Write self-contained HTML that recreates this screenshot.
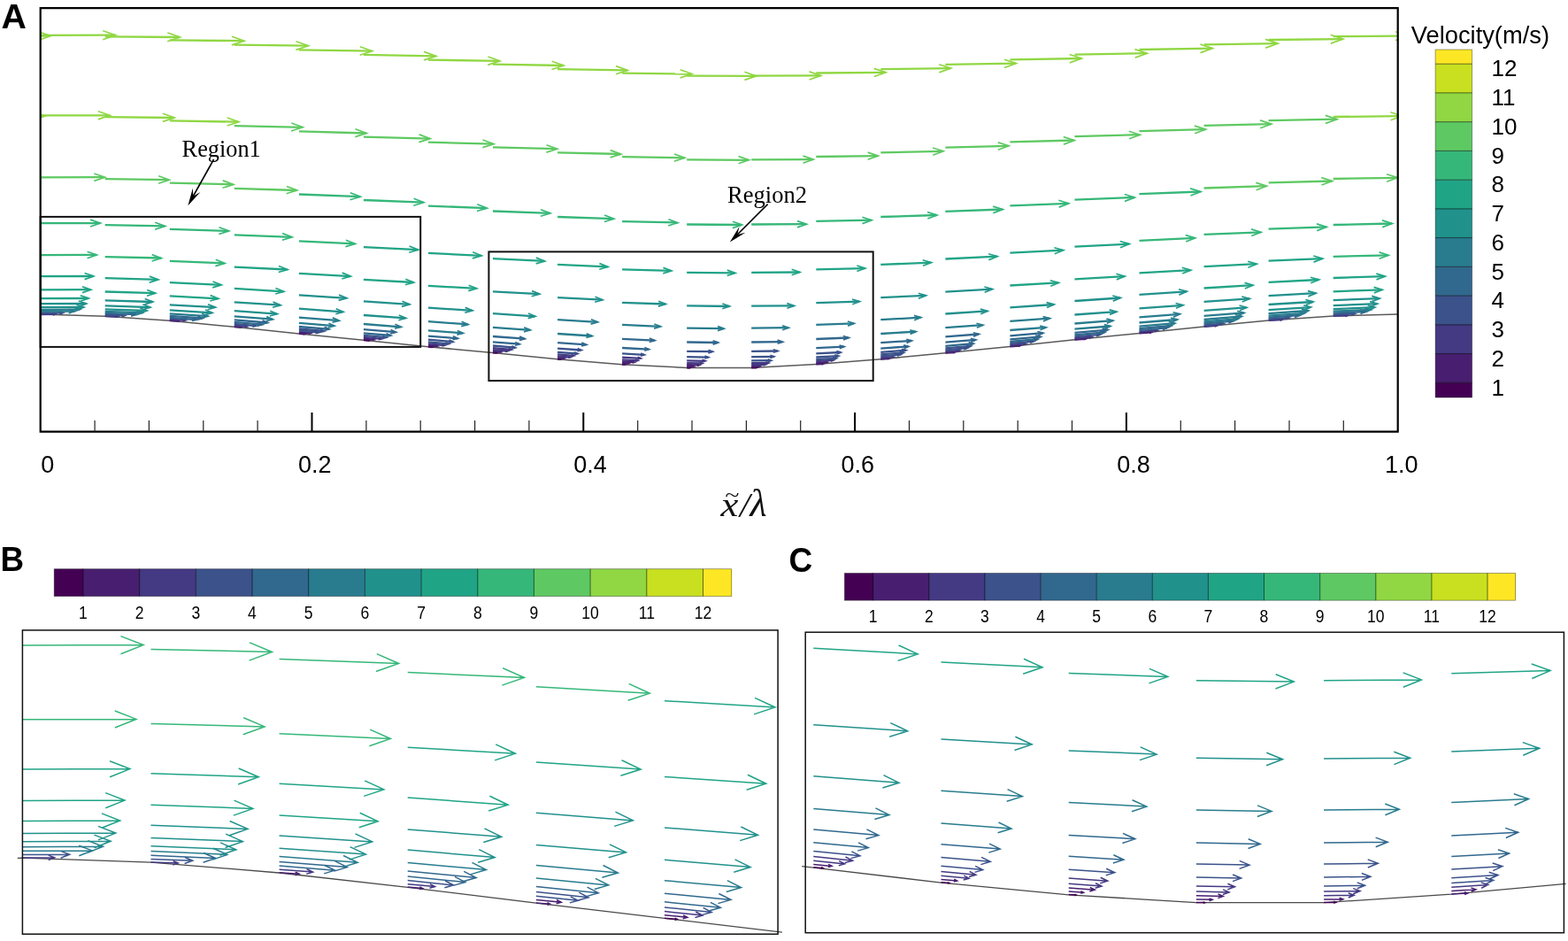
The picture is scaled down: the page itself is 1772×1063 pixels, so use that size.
<!DOCTYPE html>
<html lang="en"><head><meta charset="utf-8"><title>Velocity vector field</title>
<style>html,body{margin:0;padding:0;background:#fff}body{width:1772px;height:1063px;overflow:hidden}svg{display:block}</style>
</head><body>
<svg width="1772" height="1063" viewBox="0 0 1772 1063">
<rect width="1772" height="1063" fill="#fff"/>
<defs><clipPath id="ca"><rect x="45.7" y="9" width="1535.0" height="479"/></clipPath></defs>
<g clip-path="url(#ca)" fill="none" stroke-linecap="butt" stroke-linejoin="miter">
<polyline points="45.7,355.1 118.7,357.2 191.8,362.3 264.8,369.3 337.9,376.9 410.9,384.3 484.0,391.7 557.0,398.5 630.1,405.8 703.1,411.7 776.2,415.5 849.2,415.5 922.3,411.4 995.3,405.8 1068.4,398.8 1141.4,391.4 1214.5,383.8 1287.5,376.5 1360.6,368.9 1433.6,362.0 1506.7,357.0 1579.7,355.1" stroke="#5a5a5a" stroke-width="1.5"/>
<path d="M-27.3 356.9L-11.4 356.3" stroke="#443983" stroke-width="2.3"/><path d="M-13.9 355.4L-10.9 356.3L-13.8 357.4" stroke="#443983" stroke-width="1.7"/>
<path d="M-27.3 355.4L-3.1 354.5" stroke="#3b528b" stroke-width="2.3"/><path d="M-7.0 353.1L-2.6 354.4L-6.9 356.1" stroke="#3b528b" stroke-width="1.7"/>
<path d="M-27.3 353.6L9.2 352.0" stroke="#31688e" stroke-width="2.3"/><path d="M3.2 350.1L9.7 352.0L3.4 354.5" stroke="#31688e" stroke-width="1.7"/>
<path d="M-27.3 351.6L15.2 349.8" stroke="#287c8e" stroke-width="2.3"/><path d="M8.2 347.6L15.7 349.8L8.4 352.6" stroke="#287c8e" stroke-width="1.7"/>
<path d="M-27.3 349.1L19.4 347.2" stroke="#21918c" stroke-width="2.3"/><path d="M11.7 344.7L19.9 347.1L12.0 350.2" stroke="#21918c" stroke-width="1.7"/>
<path d="M-27.3 345.1L22.2 343.2" stroke="#21918c" stroke-width="2.3"/><path d="M14.1 340.6L22.7 343.2L14.3 346.4" stroke="#21918c" stroke-width="1.7"/>
<path d="M-27.3 339.1L24.8 337.2" stroke="#21918c" stroke-width="2.3"/><path d="M16.2 334.4L25.3 337.1L16.4 340.6" stroke="#21918c" stroke-width="1.7"/>
<path d="M-27.3 329.3L27.7 327.4" stroke="#20a486" stroke-width="2.3"/><path d="M18.6 324.4L28.2 327.4L18.8 330.9" stroke="#20a486" stroke-width="1.7"/>
<path d="M-27.3 314.0L30.9 312.2" stroke="#20a486" stroke-width="2.3"/><path d="M21.3 309.1L31.4 312.2L21.5 315.9" stroke="#20a486" stroke-width="1.7"/>
<path d="M-27.3 289.9L34.7 288.3" stroke="#35b779" stroke-width="2.3"/><path d="M24.5 284.9L35.2 288.3L24.7 292.2" stroke="#35b779" stroke-width="1.7"/>
<path d="M-27.3 254.0L38.9 252.5" stroke="#35b779" stroke-width="2.3"/><path d="M28.0 248.9L39.4 252.5L28.2 256.6" stroke="#35b779" stroke-width="1.7"/>
<path d="M-27.3 202.0L44.8 200.8" stroke="#5ec962" stroke-width="2.3"/><path d="M33.0 196.7L45.3 200.7L33.1 205.2" stroke="#5ec962" stroke-width="1.7"/>
<path d="M-27.3 132.0L50.2 131.0" stroke="#90d743" stroke-width="2.3"/><path d="M37.5 126.7L50.7 131.0L37.6 135.7" stroke="#90d743" stroke-width="1.7"/>
<path d="M-27.3 41.2L56.9 40.6" stroke="#90d743" stroke-width="2.3"/><path d="M43.1 35.8L57.4 40.6L43.2 45.6" stroke="#90d743" stroke-width="1.7"/>
<path d="M45.7 355.0L62.4 354.9" stroke="#443983" stroke-width="2.3"/><path d="M59.8 353.9L62.9 354.9L59.8 356.0" stroke="#443983" stroke-width="1.7"/>
<path d="M45.7 353.5L71.0 353.4" stroke="#3b528b" stroke-width="2.3"/><path d="M67.0 351.9L71.5 353.4L67.0 355.0" stroke="#3b528b" stroke-width="1.7"/>
<path d="M45.7 351.7L83.8 351.6" stroke="#287c8e" stroke-width="2.3"/><path d="M77.6 349.3L84.3 351.6L77.6 353.9" stroke="#287c8e" stroke-width="1.7"/>
<path d="M45.7 349.8L90.0 349.6" stroke="#287c8e" stroke-width="2.3"/><path d="M82.8 347.0L90.5 349.6L82.8 352.2" stroke="#287c8e" stroke-width="1.7"/>
<path d="M45.7 347.2L94.4 347.0" stroke="#21918c" stroke-width="2.3"/><path d="M86.5 344.2L94.9 347.0L86.5 349.9" stroke="#21918c" stroke-width="1.7"/>
<path d="M45.7 343.2L97.2 343.0" stroke="#21918c" stroke-width="2.3"/><path d="M88.8 340.0L97.7 343.0L88.9 346.1" stroke="#21918c" stroke-width="1.7"/>
<path d="M45.7 337.2L99.7 337.0" stroke="#20a486" stroke-width="2.3"/><path d="M90.9 333.9L100.2 337.0L90.9 340.2" stroke="#20a486" stroke-width="1.7"/>
<path d="M45.7 327.4L102.3 327.2" stroke="#20a486" stroke-width="2.3"/><path d="M93.1 323.9L102.8 327.2L93.1 330.6" stroke="#20a486" stroke-width="1.7"/>
<path d="M45.7 312.2L105.3 312.0" stroke="#20a486" stroke-width="2.3"/><path d="M95.6 308.5L105.8 312.0L95.6 315.6" stroke="#20a486" stroke-width="1.7"/>
<path d="M45.7 288.1L108.9 287.9" stroke="#35b779" stroke-width="2.3"/><path d="M98.6 284.3L109.4 287.9L98.6 291.7" stroke="#35b779" stroke-width="1.7"/>
<path d="M45.7 252.2L113.0 252.1" stroke="#35b779" stroke-width="2.3"/><path d="M102.0 248.1L113.5 252.1L102.0 256.0" stroke="#35b779" stroke-width="1.7"/>
<path d="M45.7 200.3L118.1 200.2" stroke="#5ec962" stroke-width="2.3"/><path d="M106.3 196.0L118.6 200.2L106.3 204.4" stroke="#5ec962" stroke-width="1.7"/>
<path d="M45.7 130.4L123.6 130.3" stroke="#90d743" stroke-width="2.3"/><path d="M110.9 125.8L124.1 130.3L110.9 134.9" stroke="#90d743" stroke-width="1.7"/>
<path d="M45.7 39.8L130.1 39.7" stroke="#90d743" stroke-width="2.3"/><path d="M116.3 34.8L130.6 39.7L116.3 44.7" stroke="#90d743" stroke-width="1.7"/>
<path d="M118.7 357.1L132.7 357.5" stroke="#443983" stroke-width="2.3"/><path d="M130.6 356.6L133.2 357.5L130.5 358.4" stroke="#443983" stroke-width="1.7"/>
<path d="M118.7 355.6L141.0 356.4" stroke="#3b528b" stroke-width="2.3"/><path d="M137.5 354.9L141.4 356.4L137.4 357.6" stroke="#3b528b" stroke-width="1.7"/>
<path d="M118.7 353.8L154.0 355.2" stroke="#31688e" stroke-width="2.3"/><path d="M148.4 352.8L154.5 355.2L148.2 357.1" stroke="#31688e" stroke-width="1.7"/>
<path d="M118.7 351.8L160.6 353.4" stroke="#287c8e" stroke-width="2.3"/><path d="M154.0 350.7L161.1 353.4L153.8 355.7" stroke="#287c8e" stroke-width="1.7"/>
<path d="M118.7 349.3L165.7 351.0" stroke="#21918c" stroke-width="2.3"/><path d="M158.2 348.0L166.2 351.0L158.0 353.5" stroke="#21918c" stroke-width="1.7"/>
<path d="M118.7 345.3L169.5 347.1" stroke="#21918c" stroke-width="2.3"/><path d="M161.4 343.8L170.0 347.1L161.2 349.8" stroke="#21918c" stroke-width="1.7"/>
<path d="M118.7 339.3L172.3 341.0" stroke="#21918c" stroke-width="2.3"/><path d="M163.7 337.5L172.8 341.0L163.5 343.9" stroke="#21918c" stroke-width="1.7"/>
<path d="M118.7 329.5L175.3 331.1" stroke="#20a486" stroke-width="2.3"/><path d="M166.2 327.5L175.8 331.1L166.0 334.2" stroke="#20a486" stroke-width="1.7"/>
<path d="M118.7 314.2L178.5 315.9" stroke="#20a486" stroke-width="2.3"/><path d="M168.9 312.1L179.0 315.9L168.7 319.1" stroke="#20a486" stroke-width="1.7"/>
<path d="M118.7 290.1L181.9 291.5" stroke="#35b779" stroke-width="2.3"/><path d="M171.7 287.6L182.4 291.6L171.6 295.0" stroke="#35b779" stroke-width="1.7"/>
<path d="M118.7 254.1L186.2 255.4" stroke="#35b779" stroke-width="2.3"/><path d="M175.2 251.3L186.7 255.4L175.1 259.2" stroke="#35b779" stroke-width="1.7"/>
<path d="M118.7 202.2L190.9 203.2" stroke="#5ec962" stroke-width="2.3"/><path d="M179.2 198.8L191.4 203.2L179.1 207.3" stroke="#5ec962" stroke-width="1.7"/>
<path d="M118.7 132.1L196.7 133.0" stroke="#90d743" stroke-width="2.3"/><path d="M184.0 128.3L197.2 133.0L183.9 137.4" stroke="#90d743" stroke-width="1.7"/>
<path d="M118.7 41.4L203.0 42.0" stroke="#90d743" stroke-width="2.3"/><path d="M189.3 37.0L203.5 42.0L189.2 46.8" stroke="#90d743" stroke-width="1.7"/>
<path d="M191.8 362.2L201.6 362.7" stroke="#481f70" stroke-width="2.3"/><path d="M200.2 362.0L202.1 362.8L200.1 363.3" stroke="#481f70" stroke-width="1.7"/>
<path d="M191.8 360.7L209.4 361.8" stroke="#443983" stroke-width="2.3"/><path d="M206.7 360.5L209.9 361.8L206.6 362.7" stroke="#443983" stroke-width="1.7"/>
<path d="M191.8 358.9L221.9 361.0" stroke="#31688e" stroke-width="2.3"/><path d="M217.2 358.8L222.4 361.0L216.9 362.5" stroke="#31688e" stroke-width="1.7"/>
<path d="M191.8 356.9L228.9 359.4" stroke="#31688e" stroke-width="2.3"/><path d="M223.1 356.8L229.4 359.5L222.8 361.3" stroke="#31688e" stroke-width="1.7"/>
<path d="M191.8 354.4L234.8 357.2" stroke="#287c8e" stroke-width="2.3"/><path d="M228.1 354.2L235.3 357.2L227.7 359.3" stroke="#287c8e" stroke-width="1.7"/>
<path d="M191.8 350.4L239.5 353.3" stroke="#21918c" stroke-width="2.3"/><path d="M232.0 350.0L240.0 353.3L231.6 355.6" stroke="#21918c" stroke-width="1.7"/>
<path d="M191.8 344.3L243.1 347.2" stroke="#21918c" stroke-width="2.3"/><path d="M235.0 343.7L243.6 347.2L234.6 349.8" stroke="#21918c" stroke-width="1.7"/>
<path d="M191.8 334.4L246.4 337.3" stroke="#20a486" stroke-width="2.3"/><path d="M237.7 333.6L246.9 337.3L237.3 340.0" stroke="#20a486" stroke-width="1.7"/>
<path d="M191.8 319.2L249.8 321.9" stroke="#20a486" stroke-width="2.3"/><path d="M240.5 318.0L250.3 321.9L240.2 324.9" stroke="#20a486" stroke-width="1.7"/>
<path d="M191.8 294.9L253.6 297.3" stroke="#35b779" stroke-width="2.3"/><path d="M243.7 293.3L254.1 297.4L243.4 300.6" stroke="#35b779" stroke-width="1.7"/>
<path d="M191.8 258.8L258.2 261.0" stroke="#35b779" stroke-width="2.3"/><path d="M247.5 256.7L258.7 261.0L247.3 264.5" stroke="#35b779" stroke-width="1.7"/>
<path d="M191.8 206.6L263.3 208.4" stroke="#5ec962" stroke-width="2.3"/><path d="M251.7 203.9L263.8 208.4L251.5 212.3" stroke="#5ec962" stroke-width="1.7"/>
<path d="M191.8 136.4L269.4 137.7" stroke="#90d743" stroke-width="2.3"/><path d="M256.8 133.0L269.9 137.7L256.6 142.0" stroke="#90d743" stroke-width="1.7"/>
<path d="M191.8 45.3L275.6 46.2" stroke="#90d743" stroke-width="2.3"/><path d="M262.0 41.2L276.1 46.2L261.9 50.9" stroke="#90d743" stroke-width="1.7"/>
<path d="M264.8 369.2L271.8 369.7" stroke="#481f70" stroke-width="2.3"/><path d="M270.8 369.1L272.3 369.7L270.8 370.1" stroke="#481f70" stroke-width="1.7"/>
<path d="M264.8 367.7L278.8 368.8" stroke="#443983" stroke-width="2.3"/><path d="M276.8 367.7L279.3 368.9L276.6 369.6" stroke="#443983" stroke-width="1.7"/>
<path d="M264.8 365.9L289.4 368.1" stroke="#3b528b" stroke-width="2.3"/><path d="M285.7 366.2L289.9 368.1L285.4 369.3" stroke="#3b528b" stroke-width="1.7"/>
<path d="M264.8 363.9L296.1 366.7" stroke="#31688e" stroke-width="2.3"/><path d="M291.2 364.3L296.6 366.7L290.9 368.1" stroke="#31688e" stroke-width="1.7"/>
<path d="M264.8 361.4L302.3 364.5" stroke="#31688e" stroke-width="2.3"/><path d="M296.5 361.8L302.8 364.5L296.1 366.3" stroke="#31688e" stroke-width="1.7"/>
<path d="M264.8 357.3L308.0 360.7" stroke="#287c8e" stroke-width="2.3"/><path d="M301.2 357.6L308.5 360.7L300.8 362.7" stroke="#287c8e" stroke-width="1.7"/>
<path d="M264.8 351.2L312.9 354.7" stroke="#21918c" stroke-width="2.3"/><path d="M305.3 351.3L313.4 354.7L304.9 357.0" stroke="#21918c" stroke-width="1.7"/>
<path d="M264.8 341.3L316.7 344.7" stroke="#21918c" stroke-width="2.3"/><path d="M308.5 341.1L317.2 344.8L308.1 347.2" stroke="#21918c" stroke-width="1.7"/>
<path d="M264.8 325.9L320.4 329.3" stroke="#20a486" stroke-width="2.3"/><path d="M311.5 325.5L320.9 329.3L311.2 332.0" stroke="#20a486" stroke-width="1.7"/>
<path d="M264.8 301.6L324.6 304.5" stroke="#20a486" stroke-width="2.3"/><path d="M315.1 300.5L325.1 304.5L314.7 307.5" stroke="#20a486" stroke-width="1.7"/>
<path d="M264.8 265.3L329.6 267.8" stroke="#35b779" stroke-width="2.3"/><path d="M319.2 263.6L330.1 267.8L318.9 271.2" stroke="#35b779" stroke-width="1.7"/>
<path d="M264.8 212.8L335.2 215.0" stroke="#5ec962" stroke-width="2.3"/><path d="M323.9 210.5L335.7 215.0L323.6 218.7" stroke="#5ec962" stroke-width="1.7"/>
<path d="M264.8 142.2L341.7 143.8" stroke="#5ec962" stroke-width="2.3"/><path d="M329.3 139.0L342.2 143.8L329.1 148.0" stroke="#5ec962" stroke-width="1.7"/>
<path d="M264.8 50.6L348.0 51.7" stroke="#90d743" stroke-width="2.3"/><path d="M334.5 46.7L348.5 51.7L334.4 56.4" stroke="#90d743" stroke-width="1.7"/>
<path d="M337.9 376.8L344.2 377.3" stroke="#481f70" stroke-width="2.3"/><path d="M343.4 376.7L344.7 377.3L343.3 377.7" stroke="#481f70" stroke-width="1.7"/>
<path d="M337.9 375.3L350.7 376.4" stroke="#481f70" stroke-width="2.3"/><path d="M348.8 375.4L351.2 376.4L348.6 377.0" stroke="#481f70" stroke-width="1.7"/>
<path d="M337.9 373.5L360.3 375.5" stroke="#3b528b" stroke-width="2.3"/><path d="M356.8 373.8L360.7 375.6L356.6 376.6" stroke="#3b528b" stroke-width="1.7"/>
<path d="M337.9 371.5L366.1 374.0" stroke="#3b528b" stroke-width="2.3"/><path d="M361.8 371.9L366.6 374.1L361.5 375.4" stroke="#3b528b" stroke-width="1.7"/>
<path d="M337.9 369.0L371.8 371.9" stroke="#31688e" stroke-width="2.3"/><path d="M366.6 369.4L372.3 371.9L366.2 373.5" stroke="#31688e" stroke-width="1.7"/>
<path d="M337.9 364.9L377.6 368.1" stroke="#287c8e" stroke-width="2.3"/><path d="M371.4 365.2L378.1 368.1L371.0 370.0" stroke="#287c8e" stroke-width="1.7"/>
<path d="M337.9 358.7L383.0 362.2" stroke="#287c8e" stroke-width="2.3"/><path d="M375.9 358.9L383.4 362.2L375.5 364.3" stroke="#287c8e" stroke-width="1.7"/>
<path d="M337.9 348.7L387.5 352.3" stroke="#21918c" stroke-width="2.3"/><path d="M379.7 348.8L388.0 352.3L379.3 354.7" stroke="#21918c" stroke-width="1.7"/>
<path d="M337.9 333.3L391.5 336.9" stroke="#21918c" stroke-width="2.3"/><path d="M383.0 333.1L392.0 336.9L382.6 339.4" stroke="#21918c" stroke-width="1.7"/>
<path d="M337.9 308.8L395.9 312.1" stroke="#20a486" stroke-width="2.3"/><path d="M386.7 308.1L396.4 312.1L386.3 315.0" stroke="#20a486" stroke-width="1.7"/>
<path d="M337.9 272.3L401.0 275.4" stroke="#35b779" stroke-width="2.3"/><path d="M390.9 271.2L401.5 275.4L390.5 278.6" stroke="#35b779" stroke-width="1.7"/>
<path d="M337.9 219.5L406.9 222.2" stroke="#35b779" stroke-width="2.3"/><path d="M395.8 217.7L407.4 222.2L395.5 225.8" stroke="#35b779" stroke-width="1.7"/>
<path d="M337.9 148.4L413.8 150.5" stroke="#5ec962" stroke-width="2.3"/><path d="M401.5 145.7L414.3 150.5L401.3 154.6" stroke="#5ec962" stroke-width="1.7"/>
<path d="M337.9 56.3L420.2 57.7" stroke="#90d743" stroke-width="2.3"/><path d="M406.9 52.7L420.7 57.8L406.7 62.3" stroke="#90d743" stroke-width="1.7"/>
<path d="M410.9 384.2L416.7 384.6" stroke="#440154" stroke-width="2.3"/><path d="M415.9 384.1L417.2 384.7L415.9 385.0" stroke="#440154" stroke-width="1.7"/>
<path d="M410.9 382.7L422.5 383.7" stroke="#481f70" stroke-width="2.3"/><path d="M420.8 382.8L423.0 383.7L420.7 384.3" stroke="#481f70" stroke-width="1.7"/>
<path d="M410.9 380.9L431.1 382.8" stroke="#443983" stroke-width="2.3"/><path d="M428.0 381.2L431.6 382.8L427.8 383.7" stroke="#443983" stroke-width="1.7"/>
<path d="M410.9 378.9L436.2 381.2" stroke="#3b528b" stroke-width="2.3"/><path d="M432.3 379.3L436.7 381.2L432.1 382.4" stroke="#3b528b" stroke-width="1.7"/>
<path d="M410.9 376.3L441.4 379.0" stroke="#31688e" stroke-width="2.3"/><path d="M436.6 376.7L441.9 379.0L436.3 380.4" stroke="#31688e" stroke-width="1.7"/>
<path d="M410.9 372.2L447.2 375.2" stroke="#31688e" stroke-width="2.3"/><path d="M441.5 372.5L447.7 375.2L441.2 376.9" stroke="#31688e" stroke-width="1.7"/>
<path d="M410.9 366.0L453.0 369.3" stroke="#287c8e" stroke-width="2.3"/><path d="M446.4 366.2L453.5 369.3L446.0 371.2" stroke="#287c8e" stroke-width="1.7"/>
<path d="M410.9 356.0L458.3 359.4" stroke="#21918c" stroke-width="2.3"/><path d="M450.8 356.0L458.8 359.4L450.4 361.7" stroke="#21918c" stroke-width="1.7"/>
<path d="M410.9 340.4L462.6 343.9" stroke="#21918c" stroke-width="2.3"/><path d="M454.4 340.3L463.1 343.9L454.0 346.4" stroke="#21918c" stroke-width="1.7"/>
<path d="M410.9 315.8L467.2 319.0" stroke="#20a486" stroke-width="2.3"/><path d="M458.3 315.2L467.7 319.1L457.9 321.8" stroke="#20a486" stroke-width="1.7"/>
<path d="M410.9 279.1L472.4 282.1" stroke="#20a486" stroke-width="2.3"/><path d="M462.5 278.0L472.9 282.2L462.2 285.2" stroke="#20a486" stroke-width="1.7"/>
<path d="M410.9 226.0L478.4 228.6" stroke="#35b779" stroke-width="2.3"/><path d="M467.6 224.2L478.9 228.7L467.3 232.2" stroke="#35b779" stroke-width="1.7"/>
<path d="M410.9 154.6L485.7 156.6" stroke="#5ec962" stroke-width="2.3"/><path d="M473.6 151.9L486.2 156.6L473.3 160.6" stroke="#5ec962" stroke-width="1.7"/>
<path d="M410.9 61.9L492.4 63.3" stroke="#90d743" stroke-width="2.3"/><path d="M479.1 58.4L492.9 63.4L479.0 67.9" stroke="#90d743" stroke-width="1.7"/>
<path d="M484.0 391.6L488.9 392.0" stroke="#440154" stroke-width="2.3"/><path d="M488.3 391.5L489.4 392.0L488.2 392.3" stroke="#440154" stroke-width="1.7"/>
<path d="M484.0 390.1L494.2 391.0" stroke="#481f70" stroke-width="2.3"/><path d="M492.8 390.1L494.7 391.0L492.7 391.5" stroke="#481f70" stroke-width="1.7"/>
<path d="M484.0 388.3L502.3 390.0" stroke="#443983" stroke-width="2.3"/><path d="M499.5 388.6L502.7 390.0L499.3 390.9" stroke="#443983" stroke-width="1.7"/>
<path d="M484.0 386.3L507.1 388.4" stroke="#3b528b" stroke-width="2.3"/><path d="M503.5 386.6L507.6 388.4L503.3 389.5" stroke="#3b528b" stroke-width="1.7"/>
<path d="M484.0 383.7L511.8 386.1" stroke="#3b528b" stroke-width="2.3"/><path d="M507.5 384.0L512.3 386.2L507.2 387.4" stroke="#3b528b" stroke-width="1.7"/>
<path d="M484.0 379.6L517.1 382.3" stroke="#31688e" stroke-width="2.3"/><path d="M511.9 379.8L517.6 382.3L511.6 383.8" stroke="#31688e" stroke-width="1.7"/>
<path d="M484.0 373.3L522.9 376.3" stroke="#287c8e" stroke-width="2.3"/><path d="M516.8 373.5L523.4 376.3L516.4 378.1" stroke="#287c8e" stroke-width="1.7"/>
<path d="M484.0 363.2L528.6 366.4" stroke="#287c8e" stroke-width="2.3"/><path d="M521.6 363.3L529.1 366.5L521.2 368.6" stroke="#287c8e" stroke-width="1.7"/>
<path d="M484.0 347.6L533.6 350.9" stroke="#21918c" stroke-width="2.3"/><path d="M525.7 347.4L534.1 350.9L525.3 353.3" stroke="#21918c" stroke-width="1.7"/>
<path d="M484.0 322.8L538.3 325.9" stroke="#20a486" stroke-width="2.3"/><path d="M529.7 322.2L538.8 325.9L529.3 328.6" stroke="#20a486" stroke-width="1.7"/>
<path d="M484.0 285.9L543.8 288.8" stroke="#20a486" stroke-width="2.3"/><path d="M534.2 284.8L544.3 288.8L533.9 291.9" stroke="#20a486" stroke-width="1.7"/>
<path d="M484.0 232.6L549.9 235.1" stroke="#35b779" stroke-width="2.3"/><path d="M539.3 230.8L550.4 235.1L539.0 238.5" stroke="#35b779" stroke-width="1.7"/>
<path d="M484.0 160.7L557.5 162.7" stroke="#5ec962" stroke-width="2.3"/><path d="M545.6 158.0L558.0 162.7L545.4 166.6" stroke="#5ec962" stroke-width="1.7"/>
<path d="M484.0 67.6L564.5 68.9" stroke="#90d743" stroke-width="2.3"/><path d="M551.4 64.0L565.0 68.9L551.2 73.4" stroke="#90d743" stroke-width="1.7"/>
<path d="M557.0 398.4L561.1 398.7" stroke="#440154" stroke-width="2.3"/><path d="M560.6 398.3L561.6 398.7L560.6 399.0" stroke="#440154" stroke-width="1.7"/>
<path d="M557.0 396.9L566.0 397.7" stroke="#481f70" stroke-width="2.3"/><path d="M564.8 396.9L566.5 397.7L564.7 398.2" stroke="#481f70" stroke-width="1.7"/>
<path d="M557.0 395.1L573.4 396.6" stroke="#443983" stroke-width="2.3"/><path d="M571.0 395.3L573.9 396.6L570.8 397.4" stroke="#443983" stroke-width="1.7"/>
<path d="M557.0 393.1L577.9 395.0" stroke="#443983" stroke-width="2.3"/><path d="M574.8 393.4L578.4 395.0L574.5 396.0" stroke="#443983" stroke-width="1.7"/>
<path d="M557.0 390.5L582.2 392.7" stroke="#3b528b" stroke-width="2.3"/><path d="M578.3 390.8L582.7 392.7L578.1 393.9" stroke="#3b528b" stroke-width="1.7"/>
<path d="M557.0 386.3L586.9 388.7" stroke="#31688e" stroke-width="2.3"/><path d="M582.3 386.5L587.4 388.8L582.0 390.2" stroke="#31688e" stroke-width="1.7"/>
<path d="M557.0 380.0L592.8 382.7" stroke="#31688e" stroke-width="2.3"/><path d="M587.2 380.1L593.3 382.8L586.9 384.4" stroke="#31688e" stroke-width="1.7"/>
<path d="M557.0 369.9L598.9 372.8" stroke="#287c8e" stroke-width="2.3"/><path d="M592.3 369.9L599.4 372.9L592.0 374.9" stroke="#287c8e" stroke-width="1.7"/>
<path d="M557.0 354.2L604.5 357.3" stroke="#21918c" stroke-width="2.3"/><path d="M597.0 354.0L605.0 357.3L596.6 359.6" stroke="#21918c" stroke-width="1.7"/>
<path d="M557.0 329.3L609.4 332.2" stroke="#21918c" stroke-width="2.3"/><path d="M601.1 328.6L609.9 332.2L600.7 334.8" stroke="#21918c" stroke-width="1.7"/>
<path d="M557.0 292.2L615.2 294.9" stroke="#20a486" stroke-width="2.3"/><path d="M605.9 291.1L615.7 295.0L605.6 297.9" stroke="#20a486" stroke-width="1.7"/>
<path d="M557.0 238.5L621.5 240.9" stroke="#35b779" stroke-width="2.3"/><path d="M611.1 236.8L622.0 241.0L610.8 244.3" stroke="#35b779" stroke-width="1.7"/>
<path d="M557.0 166.3L629.3 168.2" stroke="#5ec962" stroke-width="2.3"/><path d="M617.6 163.7L629.8 168.2L617.4 172.1" stroke="#5ec962" stroke-width="1.7"/>
<path d="M557.0 72.7L636.6 74.0" stroke="#90d743" stroke-width="2.3"/><path d="M623.7 69.2L637.1 74.0L623.5 78.5" stroke="#90d743" stroke-width="1.7"/>
<path d="M630.1 405.7L633.2 405.9" stroke="#440154" stroke-width="2.3"/><path d="M632.9 405.6L633.7 405.9L632.9 406.2" stroke="#440154" stroke-width="1.7"/>
<path d="M630.1 404.2L637.8 404.8" stroke="#481f70" stroke-width="2.3"/><path d="M636.7 404.2L638.2 404.8L636.6 405.3" stroke="#481f70" stroke-width="1.7"/>
<path d="M630.1 402.4L644.5 403.6" stroke="#443983" stroke-width="2.3"/><path d="M642.4 402.5L645.0 403.6L642.2 404.3" stroke="#443983" stroke-width="1.7"/>
<path d="M630.1 400.4L648.5 401.9" stroke="#443983" stroke-width="2.3"/><path d="M645.7 400.5L649.0 401.9L645.5 402.8" stroke="#443983" stroke-width="1.7"/>
<path d="M630.1 397.8L652.5 399.5" stroke="#3b528b" stroke-width="2.3"/><path d="M649.1 397.8L653.0 399.5L648.8 400.6" stroke="#3b528b" stroke-width="1.7"/>
<path d="M630.1 393.6L656.8 395.5" stroke="#3b528b" stroke-width="2.3"/><path d="M652.7 393.6L657.3 395.5L652.4 396.8" stroke="#3b528b" stroke-width="1.7"/>
<path d="M630.1 387.2L662.4 389.4" stroke="#31688e" stroke-width="2.3"/><path d="M657.3 387.1L662.9 389.4L657.1 391.0" stroke="#31688e" stroke-width="1.7"/>
<path d="M630.1 377.0L668.8 379.5" stroke="#287c8e" stroke-width="2.3"/><path d="M662.7 376.8L669.3 379.5L662.4 381.4" stroke="#287c8e" stroke-width="1.7"/>
<path d="M630.1 361.2L675.1 363.9" stroke="#287c8e" stroke-width="2.3"/><path d="M668.0 360.8L675.6 363.9L667.6 366.1" stroke="#287c8e" stroke-width="1.7"/>
<path d="M630.1 336.2L680.6 338.7" stroke="#21918c" stroke-width="2.3"/><path d="M672.5 335.3L681.1 338.8L672.2 341.3" stroke="#21918c" stroke-width="1.7"/>
<path d="M630.1 298.9L686.6 301.3" stroke="#20a486" stroke-width="2.3"/><path d="M677.5 297.6L687.1 301.4L677.3 304.3" stroke="#20a486" stroke-width="1.7"/>
<path d="M630.1 245.0L693.3 247.1" stroke="#35b779" stroke-width="2.3"/><path d="M683.1 243.0L693.8 247.1L682.9 250.5" stroke="#35b779" stroke-width="1.7"/>
<path d="M630.1 172.4L701.3 174.0" stroke="#5ec962" stroke-width="2.3"/><path d="M689.7 169.6L701.8 174.1L689.5 177.9" stroke="#5ec962" stroke-width="1.7"/>
<path d="M630.1 78.2L708.9 79.4" stroke="#90d743" stroke-width="2.3"/><path d="M696.1 74.6L709.4 79.4L696.0 83.8" stroke="#90d743" stroke-width="1.7"/>
<path d="M703.1 411.6L706.0 411.7" stroke="#440154" stroke-width="2.3"/><path d="M705.7 411.5L706.5 411.8L705.7 412.0" stroke="#440154" stroke-width="1.7"/>
<path d="M703.1 410.1L710.2 410.5" stroke="#481f70" stroke-width="2.3"/><path d="M709.2 410.0L710.7 410.6L709.2 411.0" stroke="#481f70" stroke-width="1.7"/>
<path d="M703.1 408.3L716.6 409.2" stroke="#481f70" stroke-width="2.3"/><path d="M714.6 408.2L717.1 409.2L714.5 409.9" stroke="#481f70" stroke-width="1.7"/>
<path d="M703.1 406.3L720.5 407.4" stroke="#443983" stroke-width="2.3"/><path d="M717.8 406.1L721.0 407.4L717.7 408.3" stroke="#443983" stroke-width="1.7"/>
<path d="M703.1 403.6L723.9 404.9" stroke="#443983" stroke-width="2.3"/><path d="M720.7 403.4L724.4 404.9L720.6 406.0" stroke="#443983" stroke-width="1.7"/>
<path d="M703.1 399.4L728.0 400.8" stroke="#3b528b" stroke-width="2.3"/><path d="M724.1 399.1L728.5 400.9L723.9 402.1" stroke="#3b528b" stroke-width="1.7"/>
<path d="M703.1 393.0L733.1 394.6" stroke="#31688e" stroke-width="2.3"/><path d="M728.4 392.5L733.6 394.6L728.2 396.2" stroke="#31688e" stroke-width="1.7"/>
<path d="M703.1 382.8L739.7 384.6" stroke="#31688e" stroke-width="2.3"/><path d="M733.9 382.1L740.2 384.6L733.7 386.5" stroke="#31688e" stroke-width="1.7"/>
<path d="M703.1 366.9L746.2 368.8" stroke="#287c8e" stroke-width="2.3"/><path d="M739.4 366.0L746.7 368.8L739.1 371.1" stroke="#287c8e" stroke-width="1.7"/>
<path d="M703.1 341.8L751.9 343.5" stroke="#21918c" stroke-width="2.3"/><path d="M744.1 340.3L752.4 343.5L743.9 346.1" stroke="#21918c" stroke-width="1.7"/>
<path d="M703.1 304.3L758.4 305.9" stroke="#20a486" stroke-width="2.3"/><path d="M749.5 302.4L758.9 305.9L749.3 308.9" stroke="#20a486" stroke-width="1.7"/>
<path d="M703.1 250.2L765.4 251.5" stroke="#35b779" stroke-width="2.3"/><path d="M755.4 247.7L765.9 251.6L755.2 255.0" stroke="#35b779" stroke-width="1.7"/>
<path d="M703.1 177.2L773.4 178.3" stroke="#5ec962" stroke-width="2.3"/><path d="M762.0 174.0L773.9 178.3L761.9 182.3" stroke="#5ec962" stroke-width="1.7"/>
<path d="M703.1 82.7L781.4 83.5" stroke="#90d743" stroke-width="2.3"/><path d="M768.7 78.8L781.9 83.5L768.6 87.9" stroke="#90d743" stroke-width="1.7"/>
<path d="M776.2 415.4L779.6 415.5" stroke="#440154" stroke-width="2.3"/><path d="M779.2 415.1L780.1 415.5L779.2 415.8" stroke="#440154" stroke-width="1.7"/>
<path d="M776.2 413.9L783.9 414.0" stroke="#481f70" stroke-width="2.3"/><path d="M782.8 413.5L784.4 414.1L782.8 414.6" stroke="#481f70" stroke-width="1.7"/>
<path d="M776.2 412.1L790.0 412.4" stroke="#481f70" stroke-width="2.3"/><path d="M787.9 411.4L790.5 412.4L787.9 413.2" stroke="#481f70" stroke-width="1.7"/>
<path d="M776.2 410.1L793.5 410.4" stroke="#443983" stroke-width="2.3"/><path d="M790.8 409.3L794.0 410.4L790.8 411.5" stroke="#443983" stroke-width="1.7"/>
<path d="M776.2 407.4L796.8 407.8" stroke="#443983" stroke-width="2.3"/><path d="M793.5 406.4L797.3 407.8L793.5 409.0" stroke="#443983" stroke-width="1.7"/>
<path d="M776.2 403.2L800.4 403.6" stroke="#3b528b" stroke-width="2.3"/><path d="M796.5 402.0L800.9 403.6L796.5 405.0" stroke="#3b528b" stroke-width="1.7"/>
<path d="M776.2 396.8L805.1 397.2" stroke="#3b528b" stroke-width="2.3"/><path d="M800.5 395.4L805.6 397.2L800.4 398.9" stroke="#3b528b" stroke-width="1.7"/>
<path d="M776.2 386.5L811.2 387.0" stroke="#31688e" stroke-width="2.3"/><path d="M805.6 384.8L811.7 387.0L805.6 389.1" stroke="#31688e" stroke-width="1.7"/>
<path d="M776.2 370.6L817.7 371.2" stroke="#287c8e" stroke-width="2.3"/><path d="M811.1 368.6L818.2 371.2L811.0 373.6" stroke="#287c8e" stroke-width="1.7"/>
<path d="M776.2 345.4L824.1 346.0" stroke="#21918c" stroke-width="2.3"/><path d="M816.4 343.0L824.6 346.0L816.3 348.7" stroke="#21918c" stroke-width="1.7"/>
<path d="M776.2 307.8L830.5 308.4" stroke="#20a486" stroke-width="2.3"/><path d="M821.8 305.1L831.0 308.4L821.7 311.5" stroke="#20a486" stroke-width="1.7"/>
<path d="M776.2 253.5L838.0 254.0" stroke="#35b779" stroke-width="2.3"/><path d="M828.0 250.3L838.5 254.0L827.9 257.6" stroke="#35b779" stroke-width="1.7"/>
<path d="M776.2 180.4L846.0 180.8" stroke="#5ec962" stroke-width="2.3"/><path d="M834.6 176.6L846.5 180.8L834.6 184.8" stroke="#5ec962" stroke-width="1.7"/>
<path d="M776.2 85.6L854.2 85.9" stroke="#90d743" stroke-width="2.3"/><path d="M841.5 81.3L854.7 85.9L841.4 90.4" stroke="#90d743" stroke-width="1.7"/>
<path d="M849.2 415.4L854.7 415.3" stroke="#440154" stroke-width="2.3"/><path d="M853.9 414.9L855.2 415.3L853.9 415.8" stroke="#440154" stroke-width="1.7"/>
<path d="M849.2 413.9L858.7 413.8" stroke="#481f70" stroke-width="2.3"/><path d="M857.3 413.2L859.2 413.8L857.3 414.5" stroke="#481f70" stroke-width="1.7"/>
<path d="M849.2 412.1L865.0 411.9" stroke="#443983" stroke-width="2.3"/><path d="M862.5 410.9L865.5 411.9L862.6 413.0" stroke="#443983" stroke-width="1.7"/>
<path d="M849.2 410.1L868.4 409.9" stroke="#443983" stroke-width="2.3"/><path d="M865.4 408.7L868.9 409.9L865.4 411.1" stroke="#443983" stroke-width="1.7"/>
<path d="M849.2 407.4L871.2 407.2" stroke="#3b528b" stroke-width="2.3"/><path d="M867.7 405.9L871.7 407.2L867.8 408.6" stroke="#3b528b" stroke-width="1.7"/>
<path d="M849.2 403.2L874.4 402.9" stroke="#3b528b" stroke-width="2.3"/><path d="M870.4 401.4L874.9 402.9L870.4 404.5" stroke="#3b528b" stroke-width="1.7"/>
<path d="M849.2 396.8L878.7 396.5" stroke="#3b528b" stroke-width="2.3"/><path d="M873.9 394.7L879.2 396.5L874.0 398.3" stroke="#3b528b" stroke-width="1.7"/>
<path d="M849.2 386.5L884.2 386.2" stroke="#31688e" stroke-width="2.3"/><path d="M878.6 384.1L884.7 386.2L878.6 388.3" stroke="#31688e" stroke-width="1.7"/>
<path d="M849.2 370.6L890.9 370.2" stroke="#287c8e" stroke-width="2.3"/><path d="M884.1 367.8L891.4 370.2L884.2 372.8" stroke="#287c8e" stroke-width="1.7"/>
<path d="M849.2 345.7L897.1 345.4" stroke="#21918c" stroke-width="2.3"/><path d="M889.3 342.6L897.6 345.4L889.4 348.3" stroke="#21918c" stroke-width="1.7"/>
<path d="M849.2 307.8L903.5 307.5" stroke="#20a486" stroke-width="2.3"/><path d="M894.7 304.3L904.0 307.5L894.7 310.7" stroke="#20a486" stroke-width="1.7"/>
<path d="M849.2 253.5L911.1 253.2" stroke="#35b779" stroke-width="2.3"/><path d="M901.0 249.6L911.6 253.2L901.0 256.9" stroke="#35b779" stroke-width="1.7"/>
<path d="M849.2 180.4L918.8 180.1" stroke="#5ec962" stroke-width="2.3"/><path d="M907.5 176.1L919.3 180.1L907.5 184.3" stroke="#5ec962" stroke-width="1.7"/>
<path d="M849.2 85.6L927.2 85.4" stroke="#90d743" stroke-width="2.3"/><path d="M914.5 80.9L927.7 85.4L914.5 90.0" stroke="#90d743" stroke-width="1.7"/>
<path d="M922.3 411.3L930.0 411.0" stroke="#481f70" stroke-width="2.3"/><path d="M928.9 410.5L930.5 410.9L928.9 411.6" stroke="#481f70" stroke-width="1.7"/>
<path d="M922.3 409.8L934.7 409.2" stroke="#481f70" stroke-width="2.3"/><path d="M932.8 408.5L935.2 409.2L932.9 410.1" stroke="#481f70" stroke-width="1.7"/>
<path d="M922.3 408.0L941.7 406.9" stroke="#443983" stroke-width="2.3"/><path d="M938.6 405.9L942.2 406.9L938.8 408.3" stroke="#443983" stroke-width="1.7"/>
<path d="M922.3 406.0L944.8 404.8" stroke="#3b528b" stroke-width="2.3"/><path d="M941.1 403.6L945.3 404.8L941.3 406.4" stroke="#3b528b" stroke-width="1.7"/>
<path d="M922.3 403.5L947.4 402.2" stroke="#3b528b" stroke-width="2.3"/><path d="M943.3 400.9L947.9 402.2L943.5 403.9" stroke="#3b528b" stroke-width="1.7"/>
<path d="M922.3 399.3L949.9 398.0" stroke="#3b528b" stroke-width="2.3"/><path d="M945.4 396.5L950.4 398.0L945.6 399.9" stroke="#3b528b" stroke-width="1.7"/>
<path d="M922.3 393.1L953.7 391.7" stroke="#31688e" stroke-width="2.3"/><path d="M948.6 390.0L954.2 391.6L948.8 393.8" stroke="#31688e" stroke-width="1.7"/>
<path d="M922.3 383.0L958.9 381.5" stroke="#31688e" stroke-width="2.3"/><path d="M952.9 379.5L959.4 381.5L953.1 383.9" stroke="#31688e" stroke-width="1.7"/>
<path d="M922.3 366.9L964.9 365.3" stroke="#287c8e" stroke-width="2.3"/><path d="M957.9 363.0L965.4 365.3L958.1 368.1" stroke="#287c8e" stroke-width="1.7"/>
<path d="M922.3 342.2L971.1 340.7" stroke="#21918c" stroke-width="2.3"/><path d="M963.1 338.1L971.6 340.7L963.3 343.8" stroke="#21918c" stroke-width="1.7"/>
<path d="M922.3 304.4L977.3 303.1" stroke="#20a486" stroke-width="2.3"/><path d="M968.3 300.0L977.8 303.1L968.4 306.5" stroke="#20a486" stroke-width="1.7"/>
<path d="M922.3 249.9L984.6 248.7" stroke="#35b779" stroke-width="2.3"/><path d="M974.4 245.3L985.1 248.7L974.5 252.6" stroke="#35b779" stroke-width="1.7"/>
<path d="M922.3 177.0L992.0 176.1" stroke="#5ec962" stroke-width="2.3"/><path d="M980.6 172.1L992.5 176.1L980.7 180.3" stroke="#5ec962" stroke-width="1.7"/>
<path d="M922.3 82.5L1000.6 81.8" stroke="#90d743" stroke-width="2.3"/><path d="M987.7 77.4L1001.1 81.8L987.8 86.5" stroke="#90d743" stroke-width="1.7"/>
<path d="M995.3 405.7L1004.3 405.1" stroke="#481f70" stroke-width="2.3"/><path d="M1002.9 404.6L1004.8 405.1L1003.0 405.8" stroke="#481f70" stroke-width="1.7"/>
<path d="M995.3 404.2L1009.6 403.2" stroke="#443983" stroke-width="2.3"/><path d="M1007.3 402.4L1010.1 403.2L1007.4 404.3" stroke="#443983" stroke-width="1.7"/>
<path d="M995.3 402.4L1017.4 400.7" stroke="#3b528b" stroke-width="2.3"/><path d="M1013.8 399.6L1017.9 400.7L1014.0 402.3" stroke="#3b528b" stroke-width="1.7"/>
<path d="M995.3 400.4L1020.9 398.5" stroke="#3b528b" stroke-width="2.3"/><path d="M1016.7 397.2L1021.4 398.4L1017.0 400.3" stroke="#3b528b" stroke-width="1.7"/>
<path d="M995.3 397.8L1023.7 395.7" stroke="#3b528b" stroke-width="2.3"/><path d="M1019.1 394.3L1024.2 395.6L1019.3 397.7" stroke="#3b528b" stroke-width="1.7"/>
<path d="M995.3 393.6L1026.3 391.4" stroke="#31688e" stroke-width="2.3"/><path d="M1021.2 389.9L1026.8 391.4L1021.5 393.6" stroke="#31688e" stroke-width="1.7"/>
<path d="M995.3 387.2L1030.0 384.9" stroke="#31688e" stroke-width="2.3"/><path d="M1024.3 383.2L1030.5 384.9L1024.5 387.4" stroke="#31688e" stroke-width="1.7"/>
<path d="M995.3 377.0L1034.8 374.6" stroke="#287c8e" stroke-width="2.3"/><path d="M1028.3 372.7L1035.3 374.6L1028.6 377.4" stroke="#287c8e" stroke-width="1.7"/>
<path d="M995.3 361.2L1040.3 358.7" stroke="#287c8e" stroke-width="2.3"/><path d="M1032.9 356.4L1040.8 358.7L1033.2 361.8" stroke="#287c8e" stroke-width="1.7"/>
<path d="M995.3 336.2L1046.1 333.8" stroke="#21918c" stroke-width="2.3"/><path d="M1037.8 331.2L1046.6 333.8L1038.0 337.2" stroke="#21918c" stroke-width="1.7"/>
<path d="M995.3 298.9L1052.1 296.6" stroke="#20a486" stroke-width="2.3"/><path d="M1042.7 293.7L1052.6 296.6L1043.0 300.3" stroke="#20a486" stroke-width="1.7"/>
<path d="M995.3 245.0L1058.5 243.0" stroke="#35b779" stroke-width="2.3"/><path d="M1048.1 239.6L1059.0 243.0L1048.3 247.0" stroke="#35b779" stroke-width="1.7"/>
<path d="M995.3 172.4L1065.6 170.8" stroke="#5ec962" stroke-width="2.3"/><path d="M1054.1 167.0L1066.1 170.8L1054.3 175.2" stroke="#5ec962" stroke-width="1.7"/>
<path d="M995.3 78.2L1074.2 77.1" stroke="#90d743" stroke-width="2.3"/><path d="M1061.2 72.7L1074.7 77.1L1061.3 81.9" stroke="#90d743" stroke-width="1.7"/>
<path d="M1068.4 398.7L1078.6 398.0" stroke="#481f70" stroke-width="2.3"/><path d="M1077.0 397.4L1079.1 397.9L1077.1 398.8" stroke="#481f70" stroke-width="1.7"/>
<path d="M1068.4 397.2L1084.3 395.9" stroke="#443983" stroke-width="2.3"/><path d="M1081.8 395.1L1084.8 395.9L1081.9 397.2" stroke="#443983" stroke-width="1.7"/>
<path d="M1068.4 395.4L1092.9 393.2" stroke="#3b528b" stroke-width="2.3"/><path d="M1088.9 392.1L1093.4 393.2L1089.2 395.1" stroke="#3b528b" stroke-width="1.7"/>
<path d="M1068.4 393.4L1096.9 390.9" stroke="#3b528b" stroke-width="2.3"/><path d="M1092.2 389.6L1097.4 390.9L1092.5 393.1" stroke="#3b528b" stroke-width="1.7"/>
<path d="M1068.4 390.8L1099.9 388.1" stroke="#31688e" stroke-width="2.3"/><path d="M1094.7 386.6L1100.4 388.1L1095.0 390.5" stroke="#31688e" stroke-width="1.7"/>
<path d="M1068.4 386.6L1102.5 383.9" stroke="#31688e" stroke-width="2.3"/><path d="M1096.9 382.3L1103.0 383.9L1097.2 386.4" stroke="#31688e" stroke-width="1.7"/>
<path d="M1068.4 380.3L1106.0 377.5" stroke="#31688e" stroke-width="2.3"/><path d="M1099.8 375.7L1106.5 377.5L1100.1 380.2" stroke="#31688e" stroke-width="1.7"/>
<path d="M1068.4 370.2L1110.5 367.2" stroke="#287c8e" stroke-width="2.3"/><path d="M1103.5 365.2L1111.0 367.2L1103.9 370.2" stroke="#287c8e" stroke-width="1.7"/>
<path d="M1068.4 354.5L1115.6 351.4" stroke="#21918c" stroke-width="2.3"/><path d="M1107.8 349.1L1116.1 351.4L1108.2 354.7" stroke="#21918c" stroke-width="1.7"/>
<path d="M1068.4 329.6L1121.1 326.7" stroke="#21918c" stroke-width="2.3"/><path d="M1112.4 324.0L1121.6 326.6L1112.7 330.2" stroke="#21918c" stroke-width="1.7"/>
<path d="M1068.4 292.5L1126.7 289.7" stroke="#20a486" stroke-width="2.3"/><path d="M1117.1 286.7L1127.2 289.7L1117.4 293.6" stroke="#20a486" stroke-width="1.7"/>
<path d="M1068.4 238.8L1132.8 236.5" stroke="#35b779" stroke-width="2.3"/><path d="M1122.2 233.1L1133.3 236.5L1122.4 240.6" stroke="#35b779" stroke-width="1.7"/>
<path d="M1068.4 166.6L1139.5 164.8" stroke="#5ec962" stroke-width="2.3"/><path d="M1127.8 160.9L1140.0 164.7L1128.0 169.2" stroke="#5ec962" stroke-width="1.7"/>
<path d="M1068.4 72.9L1148.0 71.6" stroke="#90d743" stroke-width="2.3"/><path d="M1134.9 67.2L1148.5 71.6L1135.0 76.5" stroke="#90d743" stroke-width="1.7"/>
<path d="M1141.4 391.3L1152.7 390.5" stroke="#481f70" stroke-width="2.3"/><path d="M1151.0 389.8L1153.2 390.4L1151.1 391.3" stroke="#481f70" stroke-width="1.7"/>
<path d="M1141.4 389.8L1159.0 388.4" stroke="#443983" stroke-width="2.3"/><path d="M1156.2 387.5L1159.5 388.3L1156.3 389.7" stroke="#443983" stroke-width="1.7"/>
<path d="M1141.4 388.0L1168.3 385.6" stroke="#3b528b" stroke-width="2.3"/><path d="M1163.9 384.3L1168.8 385.5L1164.2 387.6" stroke="#3b528b" stroke-width="1.7"/>
<path d="M1141.4 386.0L1172.6 383.2" stroke="#31688e" stroke-width="2.3"/><path d="M1167.5 381.8L1173.1 383.2L1167.8 385.6" stroke="#31688e" stroke-width="1.7"/>
<path d="M1141.4 383.4L1175.9 380.4" stroke="#31688e" stroke-width="2.3"/><path d="M1170.2 378.8L1176.4 380.4L1170.6 383.0" stroke="#31688e" stroke-width="1.7"/>
<path d="M1141.4 379.3L1178.6 376.2" stroke="#31688e" stroke-width="2.3"/><path d="M1172.4 374.5L1179.1 376.2L1172.8 379.0" stroke="#31688e" stroke-width="1.7"/>
<path d="M1141.4 373.0L1181.9 369.9" stroke="#287c8e" stroke-width="2.3"/><path d="M1175.2 368.0L1182.4 369.9L1175.5 372.8" stroke="#287c8e" stroke-width="1.7"/>
<path d="M1141.4 362.9L1186.1 359.7" stroke="#287c8e" stroke-width="2.3"/><path d="M1178.6 357.6L1186.6 359.7L1179.0 362.9" stroke="#287c8e" stroke-width="1.7"/>
<path d="M1141.4 347.3L1190.8 344.0" stroke="#21918c" stroke-width="2.3"/><path d="M1182.6 341.6L1191.3 344.0L1183.0 347.5" stroke="#21918c" stroke-width="1.7"/>
<path d="M1141.4 322.5L1196.0 319.4" stroke="#20a486" stroke-width="2.3"/><path d="M1186.9 316.7L1196.5 319.4L1187.3 323.2" stroke="#20a486" stroke-width="1.7"/>
<path d="M1141.4 285.6L1201.3 282.7" stroke="#20a486" stroke-width="2.3"/><path d="M1191.4 279.7L1201.8 282.7L1191.8 286.7" stroke="#20a486" stroke-width="1.7"/>
<path d="M1141.4 232.3L1207.3 229.8" stroke="#35b779" stroke-width="2.3"/><path d="M1196.4 226.3L1207.8 229.8L1196.7 234.1" stroke="#35b779" stroke-width="1.7"/>
<path d="M1141.4 160.4L1213.7 158.5" stroke="#5ec962" stroke-width="2.3"/><path d="M1201.8 154.6L1214.2 158.5L1202.0 163.1" stroke="#5ec962" stroke-width="1.7"/>
<path d="M1141.4 67.3L1221.9 66.0" stroke="#90d743" stroke-width="2.3"/><path d="M1208.7 61.5L1222.4 66.0L1208.8 70.9" stroke="#90d743" stroke-width="1.7"/>
<path d="M1214.5 383.7L1226.8 382.8" stroke="#481f70" stroke-width="2.3"/><path d="M1224.9 382.1L1227.3 382.7L1225.0 383.7" stroke="#481f70" stroke-width="1.7"/>
<path d="M1214.5 382.2L1233.6 380.6" stroke="#443983" stroke-width="2.3"/><path d="M1230.5 379.7L1234.1 380.6L1230.7 382.1" stroke="#443983" stroke-width="1.7"/>
<path d="M1214.5 380.4L1243.6 377.8" stroke="#3b528b" stroke-width="2.3"/><path d="M1238.8 376.4L1244.1 377.7L1239.1 380.0" stroke="#3b528b" stroke-width="1.7"/>
<path d="M1214.5 378.4L1248.3 375.4" stroke="#31688e" stroke-width="2.3"/><path d="M1242.7 373.8L1248.8 375.3L1243.0 377.9" stroke="#31688e" stroke-width="1.7"/>
<path d="M1214.5 375.8L1251.8 372.6" stroke="#31688e" stroke-width="2.3"/><path d="M1245.6 370.9L1252.3 372.5L1246.0 375.4" stroke="#31688e" stroke-width="1.7"/>
<path d="M1214.5 371.7L1254.5 368.5" stroke="#287c8e" stroke-width="2.3"/><path d="M1247.8 366.6L1255.0 368.4L1248.2 371.4" stroke="#287c8e" stroke-width="1.7"/>
<path d="M1214.5 365.5L1257.6 362.2" stroke="#287c8e" stroke-width="2.3"/><path d="M1250.4 360.1L1258.1 362.1L1250.8 365.3" stroke="#287c8e" stroke-width="1.7"/>
<path d="M1214.5 355.5L1261.5 352.1" stroke="#21918c" stroke-width="2.3"/><path d="M1253.7 349.9L1262.0 352.1L1254.1 355.4" stroke="#21918c" stroke-width="1.7"/>
<path d="M1214.5 340.0L1265.9 336.5" stroke="#21918c" stroke-width="2.3"/><path d="M1257.3 334.0L1266.4 336.5L1257.8 340.1" stroke="#21918c" stroke-width="1.7"/>
<path d="M1214.5 315.3L1270.7 312.1" stroke="#20a486" stroke-width="2.3"/><path d="M1261.4 309.3L1271.2 312.1L1261.8 315.9" stroke="#20a486" stroke-width="1.7"/>
<path d="M1214.5 278.6L1275.8 275.6" stroke="#20a486" stroke-width="2.3"/><path d="M1265.7 272.5L1276.3 275.6L1266.0 279.7" stroke="#20a486" stroke-width="1.7"/>
<path d="M1214.5 225.6L1281.9 223.0" stroke="#35b779" stroke-width="2.3"/><path d="M1270.8 219.5L1282.4 223.0L1271.1 227.4" stroke="#35b779" stroke-width="1.7"/>
<path d="M1214.5 154.2L1287.9 152.2" stroke="#5ec962" stroke-width="2.3"/><path d="M1275.8 148.2L1288.4 152.2L1276.1 156.8" stroke="#5ec962" stroke-width="1.7"/>
<path d="M1214.5 61.6L1295.9 60.2" stroke="#90d743" stroke-width="2.3"/><path d="M1282.5 55.6L1296.4 60.2L1282.7 65.1" stroke="#90d743" stroke-width="1.7"/>
<path d="M1287.5 376.4L1300.9 375.4" stroke="#481f70" stroke-width="2.3"/><path d="M1298.8 374.7L1301.4 375.4L1298.9 376.4" stroke="#481f70" stroke-width="1.7"/>
<path d="M1287.5 374.9L1308.0 373.2" stroke="#443983" stroke-width="2.3"/><path d="M1304.7 372.2L1308.5 373.2L1304.9 374.8" stroke="#443983" stroke-width="1.7"/>
<path d="M1287.5 373.1L1318.7 370.3" stroke="#31688e" stroke-width="2.3"/><path d="M1313.5 368.9L1319.2 370.3L1313.9 372.6" stroke="#31688e" stroke-width="1.7"/>
<path d="M1287.5 371.1L1323.7 367.9" stroke="#31688e" stroke-width="2.3"/><path d="M1317.7 366.2L1324.2 367.9L1318.1 370.6" stroke="#31688e" stroke-width="1.7"/>
<path d="M1287.5 368.6L1327.5 365.1" stroke="#287c8e" stroke-width="2.3"/><path d="M1320.8 363.3L1328.0 365.1L1321.2 368.1" stroke="#287c8e" stroke-width="1.7"/>
<path d="M1287.5 364.5L1330.2 361.0" stroke="#287c8e" stroke-width="2.3"/><path d="M1323.1 359.0L1330.7 361.0L1323.5 364.1" stroke="#287c8e" stroke-width="1.7"/>
<path d="M1287.5 358.3L1333.2 354.8" stroke="#287c8e" stroke-width="2.3"/><path d="M1325.6 352.7L1333.6 354.8L1326.0 358.1" stroke="#287c8e" stroke-width="1.7"/>
<path d="M1287.5 348.3L1336.7 344.8" stroke="#21918c" stroke-width="2.3"/><path d="M1328.6 342.5L1337.2 344.8L1329.0 348.3" stroke="#21918c" stroke-width="1.7"/>
<path d="M1287.5 332.9L1340.8 329.3" stroke="#21918c" stroke-width="2.3"/><path d="M1332.0 326.8L1341.3 329.3L1332.4 333.1" stroke="#21918c" stroke-width="1.7"/>
<path d="M1287.5 308.4L1345.4 305.1" stroke="#20a486" stroke-width="2.3"/><path d="M1335.8 302.2L1345.9 305.1L1336.2 309.0" stroke="#20a486" stroke-width="1.7"/>
<path d="M1287.5 271.9L1350.2 268.8" stroke="#35b779" stroke-width="2.3"/><path d="M1339.8 265.6L1350.7 268.8L1340.2 273.0" stroke="#35b779" stroke-width="1.7"/>
<path d="M1287.5 219.2L1356.5 216.5" stroke="#35b779" stroke-width="2.3"/><path d="M1345.1 212.9L1357.0 216.5L1345.4 221.0" stroke="#35b779" stroke-width="1.7"/>
<path d="M1287.5 148.1L1362.2 146.1" stroke="#5ec962" stroke-width="2.3"/><path d="M1349.9 142.1L1362.7 146.1L1350.2 150.8" stroke="#5ec962" stroke-width="1.7"/>
<path d="M1287.5 56.0L1369.9 54.6" stroke="#90d743" stroke-width="2.3"/><path d="M1356.3 50.0L1370.4 54.6L1356.5 59.6" stroke="#90d743" stroke-width="1.7"/>
<path d="M1360.6 368.8L1374.9 367.8" stroke="#443983" stroke-width="2.3"/><path d="M1372.6 367.0L1375.4 367.8L1372.7 368.9" stroke="#443983" stroke-width="1.7"/>
<path d="M1360.6 367.3L1382.4 365.6" stroke="#3b528b" stroke-width="2.3"/><path d="M1378.9 364.5L1382.9 365.5L1379.1 367.2" stroke="#3b528b" stroke-width="1.7"/>
<path d="M1360.6 365.5L1393.7 362.6" stroke="#31688e" stroke-width="2.3"/><path d="M1388.2 361.0L1394.2 362.5L1388.5 365.1" stroke="#31688e" stroke-width="1.7"/>
<path d="M1360.6 363.5L1399.1 360.2" stroke="#287c8e" stroke-width="2.3"/><path d="M1392.6 358.4L1399.6 360.1L1393.1 363.0" stroke="#287c8e" stroke-width="1.7"/>
<path d="M1360.6 361.0L1403.0 357.4" stroke="#287c8e" stroke-width="2.3"/><path d="M1395.9 355.5L1403.5 357.4L1396.3 360.5" stroke="#287c8e" stroke-width="1.7"/>
<path d="M1360.6 356.9L1405.7 353.4" stroke="#287c8e" stroke-width="2.3"/><path d="M1398.2 351.3L1406.2 353.4L1398.6 356.7" stroke="#287c8e" stroke-width="1.7"/>
<path d="M1360.6 350.8L1408.5 347.3" stroke="#21918c" stroke-width="2.3"/><path d="M1400.6 345.0L1409.0 347.3L1401.0 350.7" stroke="#21918c" stroke-width="1.7"/>
<path d="M1360.6 340.9L1411.9 337.4" stroke="#21918c" stroke-width="2.3"/><path d="M1403.3 335.0L1412.4 337.4L1403.7 341.0" stroke="#21918c" stroke-width="1.7"/>
<path d="M1360.6 325.5L1415.6 322.2" stroke="#20a486" stroke-width="2.3"/><path d="M1406.5 319.4L1416.1 322.1L1406.9 326.0" stroke="#20a486" stroke-width="1.7"/>
<path d="M1360.6 301.2L1419.9 298.2" stroke="#20a486" stroke-width="2.3"/><path d="M1410.1 295.2L1420.4 298.2L1410.4 302.2" stroke="#20a486" stroke-width="1.7"/>
<path d="M1360.6 264.9L1424.6 262.3" stroke="#35b779" stroke-width="2.3"/><path d="M1414.0 258.9L1425.1 262.3L1414.3 266.5" stroke="#35b779" stroke-width="1.7"/>
<path d="M1360.6 212.5L1431.0 210.2" stroke="#5ec962" stroke-width="2.3"/><path d="M1419.3 206.4L1431.5 210.2L1419.6 214.7" stroke="#5ec962" stroke-width="1.7"/>
<path d="M1360.6 141.8L1436.4 140.1" stroke="#5ec962" stroke-width="2.3"/><path d="M1424.0 135.9L1436.9 140.1L1424.2 144.8" stroke="#5ec962" stroke-width="1.7"/>
<path d="M1360.6 50.3L1443.7 49.1" stroke="#90d743" stroke-width="2.3"/><path d="M1430.1 44.4L1444.2 49.1L1430.2 54.1" stroke="#90d743" stroke-width="1.7"/>
<path d="M1433.6 361.9L1448.8 361.0" stroke="#443983" stroke-width="2.3"/><path d="M1446.4 360.2L1449.3 361.0L1446.5 362.2" stroke="#443983" stroke-width="1.7"/>
<path d="M1433.6 360.4L1456.7 358.9" stroke="#3b528b" stroke-width="2.3"/><path d="M1452.9 357.7L1457.2 358.9L1453.1 360.6" stroke="#3b528b" stroke-width="1.7"/>
<path d="M1433.6 358.6L1468.5 356.1" stroke="#31688e" stroke-width="2.3"/><path d="M1462.7 354.4L1469.0 356.1L1463.0 358.6" stroke="#31688e" stroke-width="1.7"/>
<path d="M1433.6 356.6L1474.2 353.8" stroke="#287c8e" stroke-width="2.3"/><path d="M1467.5 351.8L1474.7 353.7L1467.8 356.7" stroke="#287c8e" stroke-width="1.7"/>
<path d="M1433.6 354.1L1478.3 351.0" stroke="#287c8e" stroke-width="2.3"/><path d="M1470.9 348.9L1478.8 351.0L1471.2 354.2" stroke="#287c8e" stroke-width="1.7"/>
<path d="M1433.6 350.1L1481.0 347.1" stroke="#21918c" stroke-width="2.3"/><path d="M1473.2 344.7L1481.5 347.0L1473.5 350.4" stroke="#21918c" stroke-width="1.7"/>
<path d="M1433.6 344.0L1483.7 341.0" stroke="#21918c" stroke-width="2.3"/><path d="M1475.4 338.5L1484.2 341.0L1475.8 344.5" stroke="#21918c" stroke-width="1.7"/>
<path d="M1433.6 334.2L1486.8 331.2" stroke="#21918c" stroke-width="2.3"/><path d="M1478.0 328.6L1487.3 331.2L1478.4 334.9" stroke="#21918c" stroke-width="1.7"/>
<path d="M1433.6 318.9L1490.3 316.0" stroke="#20a486" stroke-width="2.3"/><path d="M1480.9 313.2L1490.8 316.0L1481.3 319.8" stroke="#20a486" stroke-width="1.7"/>
<path d="M1433.6 294.6L1494.3 292.1" stroke="#20a486" stroke-width="2.3"/><path d="M1484.3 289.0L1494.8 292.1L1484.6 296.1" stroke="#20a486" stroke-width="1.7"/>
<path d="M1433.6 258.6L1498.8 256.4" stroke="#35b779" stroke-width="2.3"/><path d="M1488.0 252.9L1499.3 256.4L1488.3 260.6" stroke="#35b779" stroke-width="1.7"/>
<path d="M1433.6 206.4L1505.1 204.5" stroke="#5ec962" stroke-width="2.3"/><path d="M1493.3 200.6L1505.6 204.5L1493.5 209.0" stroke="#5ec962" stroke-width="1.7"/>
<path d="M1433.6 136.1L1510.5 134.7" stroke="#5ec962" stroke-width="2.3"/><path d="M1497.8 130.4L1511.0 134.7L1498.0 139.4" stroke="#5ec962" stroke-width="1.7"/>
<path d="M1433.6 45.0L1517.4 44.1" stroke="#90d743" stroke-width="2.3"/><path d="M1503.7 39.3L1517.9 44.0L1503.8 49.1" stroke="#90d743" stroke-width="1.7"/>
<path d="M1506.7 356.9L1522.6 356.3" stroke="#443983" stroke-width="2.3"/><path d="M1520.1 355.4L1523.1 356.3L1520.2 357.4" stroke="#443983" stroke-width="1.7"/>
<path d="M1506.7 355.4L1530.9 354.5" stroke="#3b528b" stroke-width="2.3"/><path d="M1527.0 353.1L1531.4 354.4L1527.1 356.1" stroke="#3b528b" stroke-width="1.7"/>
<path d="M1506.7 353.6L1543.2 352.0" stroke="#31688e" stroke-width="2.3"/><path d="M1537.2 350.1L1543.7 352.0L1537.4 354.5" stroke="#31688e" stroke-width="1.7"/>
<path d="M1506.7 351.6L1549.2 349.8" stroke="#287c8e" stroke-width="2.3"/><path d="M1542.2 347.6L1549.7 349.8L1542.4 352.6" stroke="#287c8e" stroke-width="1.7"/>
<path d="M1506.7 349.1L1553.4 347.2" stroke="#21918c" stroke-width="2.3"/><path d="M1545.7 344.7L1553.9 347.1L1546.0 350.2" stroke="#21918c" stroke-width="1.7"/>
<path d="M1506.7 345.1L1556.2 343.2" stroke="#21918c" stroke-width="2.3"/><path d="M1548.1 340.6L1556.7 343.2L1548.3 346.4" stroke="#21918c" stroke-width="1.7"/>
<path d="M1506.7 339.1L1558.8 337.2" stroke="#21918c" stroke-width="2.3"/><path d="M1550.2 334.4L1559.3 337.1L1550.4 340.6" stroke="#21918c" stroke-width="1.7"/>
<path d="M1506.7 329.3L1561.7 327.4" stroke="#20a486" stroke-width="2.3"/><path d="M1552.6 324.4L1562.2 327.4L1552.8 330.9" stroke="#20a486" stroke-width="1.7"/>
<path d="M1506.7 314.0L1564.9 312.2" stroke="#20a486" stroke-width="2.3"/><path d="M1555.3 309.1L1565.4 312.2L1555.5 315.9" stroke="#20a486" stroke-width="1.7"/>
<path d="M1506.7 289.9L1568.7 288.3" stroke="#35b779" stroke-width="2.3"/><path d="M1558.5 284.9L1569.2 288.3L1558.7 292.2" stroke="#35b779" stroke-width="1.7"/>
<path d="M1506.7 254.0L1572.9 252.5" stroke="#35b779" stroke-width="2.3"/><path d="M1562.0 248.9L1573.4 252.5L1562.2 256.6" stroke="#35b779" stroke-width="1.7"/>
<path d="M1506.7 202.0L1578.8 200.8" stroke="#5ec962" stroke-width="2.3"/><path d="M1567.0 196.7L1579.3 200.7L1567.1 205.2" stroke="#5ec962" stroke-width="1.7"/>
<path d="M1506.7 132.0L1584.2 131.0" stroke="#90d743" stroke-width="2.3"/><path d="M1571.5 126.7L1584.7 131.0L1571.6 135.7" stroke="#90d743" stroke-width="1.7"/>
<path d="M1506.7 41.2L1590.9 40.6" stroke="#90d743" stroke-width="2.3"/><path d="M1577.1 35.8L1591.4 40.6L1577.2 45.6" stroke="#90d743" stroke-width="1.7"/>
</g>
<rect x="45.7" y="244.9" width="429.5" height="147.0" fill="none" stroke="#111" stroke-width="2"/>
<rect x="552.4" y="284.4" width="434.3" height="145.7" fill="none" stroke="#111" stroke-width="2"/>
<path d="M45.7 487.6L45.7 9.2L1579.7 9.2L1579.7 487.6Z" fill="none" stroke="#000" stroke-width="2.2"/>
<line x1="107.1" y1="475" x2="107.1" y2="487.6" stroke="#222" stroke-width="1.2"/>
<line x1="168.4" y1="475" x2="168.4" y2="487.6" stroke="#222" stroke-width="1.2"/>
<line x1="229.8" y1="475" x2="229.8" y2="487.6" stroke="#222" stroke-width="1.2"/>
<line x1="291.1" y1="475" x2="291.1" y2="487.6" stroke="#222" stroke-width="1.2"/>
<line x1="352.5" y1="466" x2="352.5" y2="487.6" stroke="#000" stroke-width="2"/>
<line x1="413.9" y1="475" x2="413.9" y2="487.6" stroke="#222" stroke-width="1.2"/>
<line x1="475.2" y1="475" x2="475.2" y2="487.6" stroke="#222" stroke-width="1.2"/>
<line x1="536.6" y1="475" x2="536.6" y2="487.6" stroke="#222" stroke-width="1.2"/>
<line x1="597.9" y1="475" x2="597.9" y2="487.6" stroke="#222" stroke-width="1.2"/>
<line x1="659.3" y1="466" x2="659.3" y2="487.6" stroke="#000" stroke-width="2"/>
<line x1="720.7" y1="475" x2="720.7" y2="487.6" stroke="#222" stroke-width="1.2"/>
<line x1="782.0" y1="475" x2="782.0" y2="487.6" stroke="#222" stroke-width="1.2"/>
<line x1="843.4" y1="475" x2="843.4" y2="487.6" stroke="#222" stroke-width="1.2"/>
<line x1="904.7" y1="475" x2="904.7" y2="487.6" stroke="#222" stroke-width="1.2"/>
<line x1="966.1" y1="466" x2="966.1" y2="487.6" stroke="#000" stroke-width="2"/>
<line x1="1027.5" y1="475" x2="1027.5" y2="487.6" stroke="#222" stroke-width="1.2"/>
<line x1="1088.8" y1="475" x2="1088.8" y2="487.6" stroke="#222" stroke-width="1.2"/>
<line x1="1150.2" y1="475" x2="1150.2" y2="487.6" stroke="#222" stroke-width="1.2"/>
<line x1="1211.5" y1="475" x2="1211.5" y2="487.6" stroke="#222" stroke-width="1.2"/>
<line x1="1272.9" y1="466" x2="1272.9" y2="487.6" stroke="#000" stroke-width="2"/>
<line x1="1334.3" y1="475" x2="1334.3" y2="487.6" stroke="#222" stroke-width="1.2"/>
<line x1="1395.6" y1="475" x2="1395.6" y2="487.6" stroke="#222" stroke-width="1.2"/>
<line x1="1457.0" y1="475" x2="1457.0" y2="487.6" stroke="#222" stroke-width="1.2"/>
<line x1="1518.3" y1="475" x2="1518.3" y2="487.6" stroke="#222" stroke-width="1.2"/>
<text x="53.7" y="533.8" font-family="'Liberation Sans',Arial,sans-serif" font-size="27" text-anchor="middle" fill="#000">0</text>
<text x="355.7" y="533.8" font-family="'Liberation Sans',Arial,sans-serif" font-size="27" text-anchor="middle" fill="#000">0.2</text>
<text x="667.0" y="533.8" font-family="'Liberation Sans',Arial,sans-serif" font-size="27" text-anchor="middle" fill="#000">0.4</text>
<text x="969.3" y="533.8" font-family="'Liberation Sans',Arial,sans-serif" font-size="27" text-anchor="middle" fill="#000">0.6</text>
<text x="1280.9" y="533.8" font-family="'Liberation Sans',Arial,sans-serif" font-size="27" text-anchor="middle" fill="#000">0.8</text>
<text x="1583.7" y="533.8" font-family="'Liberation Sans',Arial,sans-serif" font-size="27" text-anchor="middle" fill="#000">1.0</text>
<text transform="translate(814.4 583) scale(1.18 1)" font-family="'Liberation Serif','Times New Roman',serif" font-size="38" font-style="italic" fill="#111">x</text>
<text x="836" y="584" font-family="'Liberation Serif','Times New Roman',serif" font-size="41" font-style="italic" fill="#111">/</text>
<text x="847.5" y="583" font-family="'Liberation Serif','Times New Roman',serif" font-size="44" font-style="italic" fill="#111">λ</text>
<text transform="translate(819 566) scale(1.1 0.8)" font-family="'Liberation Serif','Times New Roman',serif" font-size="27" font-style="italic" fill="#111">~</text>
<text x="205.6" y="177" font-family="'Liberation Serif','Times New Roman',serif" font-size="26.3" fill="#000">Region1</text>
<text x="822" y="228.6" font-family="'Liberation Serif','Times New Roman',serif" font-size="26.6" fill="#000">Region2</text>
<line x1="241.6" y1="180.0" x2="215.3" y2="227.0" stroke="#000" stroke-width="1.6"/><path d="M212.4 232.2L217.9 212.4L218.3 221.7L226.4 217.1Z" fill="#000"/>
<line x1="867.6" y1="230.6" x2="829.0" y2="269.3" stroke="#000" stroke-width="1.6"/><path d="M824.8 273.5L835.5 255.9L833.3 265.0L842.4 262.8Z" fill="#000"/>
<text transform="translate(1.4 31.8) scale(1.035 1)" font-family="'Liberation Sans',Arial,sans-serif" font-weight="bold" font-size="38" fill="#000">A</text>
<text transform="translate(0.6 645.4) scale(0.97 1)" font-family="'Liberation Sans',Arial,sans-serif" font-weight="bold" font-size="38" fill="#000">B</text>
<text transform="translate(891.6 646.1) scale(0.975 1)" font-family="'Liberation Sans',Arial,sans-serif" font-weight="bold" font-size="38" fill="#000">C</text>
<rect x="1622.1" y="56.0" width="41.5" height="16.5" fill="#fde725"/>
<rect x="1622.1" y="72.2" width="41.5" height="33.0" fill="#c8e020"/>
<rect x="1622.1" y="104.9" width="41.5" height="33.0" fill="#90d743"/>
<rect x="1622.1" y="137.7" width="41.5" height="33.0" fill="#5ec962"/>
<rect x="1622.1" y="170.4" width="41.5" height="33.0" fill="#35b779"/>
<rect x="1622.1" y="203.2" width="41.5" height="33.0" fill="#20a486"/>
<rect x="1622.1" y="235.9" width="41.5" height="33.0" fill="#21918c"/>
<rect x="1622.1" y="268.6" width="41.5" height="33.0" fill="#287c8e"/>
<rect x="1622.1" y="301.4" width="41.5" height="33.0" fill="#31688e"/>
<rect x="1622.1" y="334.1" width="41.5" height="33.0" fill="#3b528b"/>
<rect x="1622.1" y="366.9" width="41.5" height="33.0" fill="#443983"/>
<rect x="1622.1" y="399.6" width="41.5" height="33.0" fill="#481f70"/>
<rect x="1622.1" y="432.3" width="41.5" height="16.8" fill="#440154"/>
<line x1="1622.1" y1="72.2" x2="1663.6" y2="72.2" stroke="#000" stroke-opacity="0.55" stroke-width="1"/>
<line x1="1622.1" y1="104.9" x2="1663.6" y2="104.9" stroke="#000" stroke-opacity="0.55" stroke-width="1"/>
<line x1="1622.1" y1="137.7" x2="1663.6" y2="137.7" stroke="#000" stroke-opacity="0.55" stroke-width="1"/>
<line x1="1622.1" y1="170.4" x2="1663.6" y2="170.4" stroke="#000" stroke-opacity="0.55" stroke-width="1"/>
<line x1="1622.1" y1="203.2" x2="1663.6" y2="203.2" stroke="#000" stroke-opacity="0.55" stroke-width="1"/>
<line x1="1622.1" y1="235.9" x2="1663.6" y2="235.9" stroke="#000" stroke-opacity="0.55" stroke-width="1"/>
<line x1="1622.1" y1="268.6" x2="1663.6" y2="268.6" stroke="#000" stroke-opacity="0.55" stroke-width="1"/>
<line x1="1622.1" y1="301.4" x2="1663.6" y2="301.4" stroke="#000" stroke-opacity="0.55" stroke-width="1"/>
<line x1="1622.1" y1="334.1" x2="1663.6" y2="334.1" stroke="#000" stroke-opacity="0.55" stroke-width="1"/>
<line x1="1622.1" y1="366.9" x2="1663.6" y2="366.9" stroke="#000" stroke-opacity="0.55" stroke-width="1"/>
<line x1="1622.1" y1="399.6" x2="1663.6" y2="399.6" stroke="#000" stroke-opacity="0.55" stroke-width="1"/>
<line x1="1622.1" y1="432.3" x2="1663.6" y2="432.3" stroke="#000" stroke-opacity="0.55" stroke-width="1"/>
<rect x="1622.1" y="56.0" width="41.5" height="392.8" fill="none" stroke="#000" stroke-opacity="0.4" stroke-width="0.9"/>
<text x="1685.5" y="86.4" font-family="'Liberation Sans',Arial,sans-serif" font-size="26" fill="#000">12</text>
<text x="1685.5" y="119.1" font-family="'Liberation Sans',Arial,sans-serif" font-size="26" fill="#000">11</text>
<text x="1685.5" y="151.9" font-family="'Liberation Sans',Arial,sans-serif" font-size="26" fill="#000">10</text>
<text x="1685.5" y="184.6" font-family="'Liberation Sans',Arial,sans-serif" font-size="26" fill="#000">9</text>
<text x="1685.5" y="217.4" font-family="'Liberation Sans',Arial,sans-serif" font-size="26" fill="#000">8</text>
<text x="1685.5" y="250.1" font-family="'Liberation Sans',Arial,sans-serif" font-size="26" fill="#000">7</text>
<text x="1685.5" y="282.8" font-family="'Liberation Sans',Arial,sans-serif" font-size="26" fill="#000">6</text>
<text x="1685.5" y="315.6" font-family="'Liberation Sans',Arial,sans-serif" font-size="26" fill="#000">5</text>
<text x="1685.5" y="348.3" font-family="'Liberation Sans',Arial,sans-serif" font-size="26" fill="#000">4</text>
<text x="1685.5" y="381.1" font-family="'Liberation Sans',Arial,sans-serif" font-size="26" fill="#000">3</text>
<text x="1685.5" y="413.8" font-family="'Liberation Sans',Arial,sans-serif" font-size="26" fill="#000">2</text>
<text x="1685.5" y="446.5" font-family="'Liberation Sans',Arial,sans-serif" font-size="26" fill="#000">1</text>
<text x="1594.8" y="48.6" font-family="'Liberation Sans',Arial,sans-serif" font-size="27.3" fill="#000">Velocity(m/s)</text>
<rect x="61.2" y="642.7" width="33.1" height="30.9" fill="#440154"/>
<rect x="94.0" y="642.7" width="64.0" height="30.9" fill="#481f70"/>
<rect x="157.7" y="642.7" width="64.0" height="30.9" fill="#443983"/>
<rect x="221.4" y="642.7" width="64.0" height="30.9" fill="#3b528b"/>
<rect x="285.0" y="642.7" width="64.0" height="30.9" fill="#31688e"/>
<rect x="348.7" y="642.7" width="64.0" height="30.9" fill="#287c8e"/>
<rect x="412.4" y="642.7" width="64.0" height="30.9" fill="#21918c"/>
<rect x="476.1" y="642.7" width="64.0" height="30.9" fill="#20a486"/>
<rect x="539.8" y="642.7" width="64.0" height="30.9" fill="#35b779"/>
<rect x="603.4" y="642.7" width="64.0" height="30.9" fill="#5ec962"/>
<rect x="667.1" y="642.7" width="64.0" height="30.9" fill="#90d743"/>
<rect x="730.8" y="642.7" width="64.0" height="30.9" fill="#c8e020"/>
<rect x="794.5" y="642.7" width="32.5" height="30.9" fill="#fde725"/>
<line x1="94.0" y1="642.7" x2="94.0" y2="673.6" stroke="#000" stroke-opacity="0.55" stroke-width="1"/>
<line x1="157.7" y1="642.7" x2="157.7" y2="673.6" stroke="#000" stroke-opacity="0.55" stroke-width="1"/>
<line x1="221.4" y1="642.7" x2="221.4" y2="673.6" stroke="#000" stroke-opacity="0.55" stroke-width="1"/>
<line x1="285.0" y1="642.7" x2="285.0" y2="673.6" stroke="#000" stroke-opacity="0.55" stroke-width="1"/>
<line x1="348.7" y1="642.7" x2="348.7" y2="673.6" stroke="#000" stroke-opacity="0.55" stroke-width="1"/>
<line x1="412.4" y1="642.7" x2="412.4" y2="673.6" stroke="#000" stroke-opacity="0.55" stroke-width="1"/>
<line x1="476.1" y1="642.7" x2="476.1" y2="673.6" stroke="#000" stroke-opacity="0.55" stroke-width="1"/>
<line x1="539.8" y1="642.7" x2="539.8" y2="673.6" stroke="#000" stroke-opacity="0.55" stroke-width="1"/>
<line x1="603.4" y1="642.7" x2="603.4" y2="673.6" stroke="#000" stroke-opacity="0.55" stroke-width="1"/>
<line x1="667.1" y1="642.7" x2="667.1" y2="673.6" stroke="#000" stroke-opacity="0.55" stroke-width="1"/>
<line x1="730.8" y1="642.7" x2="730.8" y2="673.6" stroke="#000" stroke-opacity="0.55" stroke-width="1"/>
<line x1="794.5" y1="642.7" x2="794.5" y2="673.6" stroke="#000" stroke-opacity="0.55" stroke-width="1"/>
<rect x="61.2" y="642.7" width="765.5" height="30.9" fill="none" stroke="#000" stroke-opacity="0.4" stroke-width="0.9"/>
<text transform="translate(94.0 699.2) scale(0.9 1)" font-family="'Liberation Sans',Arial,sans-serif" font-size="19.5" text-anchor="middle" fill="#000">1</text>
<text transform="translate(157.7 699.2) scale(0.9 1)" font-family="'Liberation Sans',Arial,sans-serif" font-size="19.5" text-anchor="middle" fill="#000">2</text>
<text transform="translate(221.4 699.2) scale(0.9 1)" font-family="'Liberation Sans',Arial,sans-serif" font-size="19.5" text-anchor="middle" fill="#000">3</text>
<text transform="translate(285.0 699.2) scale(0.9 1)" font-family="'Liberation Sans',Arial,sans-serif" font-size="19.5" text-anchor="middle" fill="#000">4</text>
<text transform="translate(348.7 699.2) scale(0.9 1)" font-family="'Liberation Sans',Arial,sans-serif" font-size="19.5" text-anchor="middle" fill="#000">5</text>
<text transform="translate(412.4 699.2) scale(0.9 1)" font-family="'Liberation Sans',Arial,sans-serif" font-size="19.5" text-anchor="middle" fill="#000">6</text>
<text transform="translate(476.1 699.2) scale(0.9 1)" font-family="'Liberation Sans',Arial,sans-serif" font-size="19.5" text-anchor="middle" fill="#000">7</text>
<text transform="translate(539.8 699.2) scale(0.9 1)" font-family="'Liberation Sans',Arial,sans-serif" font-size="19.5" text-anchor="middle" fill="#000">8</text>
<text transform="translate(603.4 699.2) scale(0.9 1)" font-family="'Liberation Sans',Arial,sans-serif" font-size="19.5" text-anchor="middle" fill="#000">9</text>
<text transform="translate(667.1 699.2) scale(0.9 1)" font-family="'Liberation Sans',Arial,sans-serif" font-size="19.5" text-anchor="middle" fill="#000">10</text>
<text transform="translate(730.8 699.2) scale(0.9 1)" font-family="'Liberation Sans',Arial,sans-serif" font-size="19.5" text-anchor="middle" fill="#000">11</text>
<text transform="translate(794.5 699.2) scale(0.9 1)" font-family="'Liberation Sans',Arial,sans-serif" font-size="19.5" text-anchor="middle" fill="#000">12</text>
<rect x="954.4" y="647.5" width="32.6" height="30.7" fill="#440154"/>
<rect x="986.7" y="647.5" width="63.4" height="30.7" fill="#481f70"/>
<rect x="1049.8" y="647.5" width="63.4" height="30.7" fill="#443983"/>
<rect x="1112.9" y="647.5" width="63.4" height="30.7" fill="#3b528b"/>
<rect x="1176.1" y="647.5" width="63.4" height="30.7" fill="#31688e"/>
<rect x="1239.2" y="647.5" width="63.4" height="30.7" fill="#287c8e"/>
<rect x="1302.3" y="647.5" width="63.4" height="30.7" fill="#21918c"/>
<rect x="1365.4" y="647.5" width="63.4" height="30.7" fill="#20a486"/>
<rect x="1428.5" y="647.5" width="63.4" height="30.7" fill="#35b779"/>
<rect x="1491.7" y="647.5" width="63.4" height="30.7" fill="#5ec962"/>
<rect x="1554.8" y="647.5" width="63.4" height="30.7" fill="#90d743"/>
<rect x="1617.9" y="647.5" width="63.4" height="30.7" fill="#c8e020"/>
<rect x="1681.0" y="647.5" width="31.8" height="30.7" fill="#fde725"/>
<line x1="986.7" y1="647.5" x2="986.7" y2="678.2" stroke="#000" stroke-opacity="0.55" stroke-width="1"/>
<line x1="1049.8" y1="647.5" x2="1049.8" y2="678.2" stroke="#000" stroke-opacity="0.55" stroke-width="1"/>
<line x1="1112.9" y1="647.5" x2="1112.9" y2="678.2" stroke="#000" stroke-opacity="0.55" stroke-width="1"/>
<line x1="1176.1" y1="647.5" x2="1176.1" y2="678.2" stroke="#000" stroke-opacity="0.55" stroke-width="1"/>
<line x1="1239.2" y1="647.5" x2="1239.2" y2="678.2" stroke="#000" stroke-opacity="0.55" stroke-width="1"/>
<line x1="1302.3" y1="647.5" x2="1302.3" y2="678.2" stroke="#000" stroke-opacity="0.55" stroke-width="1"/>
<line x1="1365.4" y1="647.5" x2="1365.4" y2="678.2" stroke="#000" stroke-opacity="0.55" stroke-width="1"/>
<line x1="1428.5" y1="647.5" x2="1428.5" y2="678.2" stroke="#000" stroke-opacity="0.55" stroke-width="1"/>
<line x1="1491.7" y1="647.5" x2="1491.7" y2="678.2" stroke="#000" stroke-opacity="0.55" stroke-width="1"/>
<line x1="1554.8" y1="647.5" x2="1554.8" y2="678.2" stroke="#000" stroke-opacity="0.55" stroke-width="1"/>
<line x1="1617.9" y1="647.5" x2="1617.9" y2="678.2" stroke="#000" stroke-opacity="0.55" stroke-width="1"/>
<line x1="1681.0" y1="647.5" x2="1681.0" y2="678.2" stroke="#000" stroke-opacity="0.55" stroke-width="1"/>
<rect x="954.4" y="647.5" width="758.1" height="30.7" fill="none" stroke="#000" stroke-opacity="0.4" stroke-width="0.9"/>
<text transform="translate(986.7 702.9) scale(0.9 1)" font-family="'Liberation Sans',Arial,sans-serif" font-size="19.5" text-anchor="middle" fill="#000">1</text>
<text transform="translate(1049.8 702.9) scale(0.9 1)" font-family="'Liberation Sans',Arial,sans-serif" font-size="19.5" text-anchor="middle" fill="#000">2</text>
<text transform="translate(1112.9 702.9) scale(0.9 1)" font-family="'Liberation Sans',Arial,sans-serif" font-size="19.5" text-anchor="middle" fill="#000">3</text>
<text transform="translate(1176.1 702.9) scale(0.9 1)" font-family="'Liberation Sans',Arial,sans-serif" font-size="19.5" text-anchor="middle" fill="#000">4</text>
<text transform="translate(1239.2 702.9) scale(0.9 1)" font-family="'Liberation Sans',Arial,sans-serif" font-size="19.5" text-anchor="middle" fill="#000">5</text>
<text transform="translate(1302.3 702.9) scale(0.9 1)" font-family="'Liberation Sans',Arial,sans-serif" font-size="19.5" text-anchor="middle" fill="#000">6</text>
<text transform="translate(1365.4 702.9) scale(0.9 1)" font-family="'Liberation Sans',Arial,sans-serif" font-size="19.5" text-anchor="middle" fill="#000">7</text>
<text transform="translate(1428.5 702.9) scale(0.9 1)" font-family="'Liberation Sans',Arial,sans-serif" font-size="19.5" text-anchor="middle" fill="#000">8</text>
<text transform="translate(1491.7 702.9) scale(0.9 1)" font-family="'Liberation Sans',Arial,sans-serif" font-size="19.5" text-anchor="middle" fill="#000">9</text>
<text transform="translate(1554.8 702.9) scale(0.9 1)" font-family="'Liberation Sans',Arial,sans-serif" font-size="19.5" text-anchor="middle" fill="#000">10</text>
<text transform="translate(1617.9 702.9) scale(0.9 1)" font-family="'Liberation Sans',Arial,sans-serif" font-size="19.5" text-anchor="middle" fill="#000">11</text>
<text transform="translate(1681.0 702.9) scale(0.9 1)" font-family="'Liberation Sans',Arial,sans-serif" font-size="19.5" text-anchor="middle" fill="#000">12</text>
<g fill="none">
<polyline points="19.7,969.4 25.4,969.2 170.5,974.1 315.6,986.0 460.7,1002.4 605.9,1020.1 751.0,1037.4 883.9,1053.2" stroke="#4a4a4a" stroke-width="1.3"/>
<path d="M25.4 969.0L61.7 968.8M54.7 966.1L61.7 968.8L54.7 971.6" stroke="#443983" stroke-width="1.5"/>
<path d="M25.4 965.5L78.7 965.3M68.6 961.4L78.7 965.3L68.6 969.3" stroke="#3b528b" stroke-width="1.5"/>
<path d="M25.4 961.3L104.1 960.9M89.2 955.2L104.1 960.9L89.3 966.8" stroke="#287c8e" stroke-width="1.5"/>
<path d="M25.4 956.7L116.5 956.3M99.3 949.6L116.5 956.3L99.4 963.1" stroke="#287c8e" stroke-width="1.5"/>
<path d="M25.4 950.8L125.2 950.3M106.4 943.1L125.2 950.3L106.5 957.8" stroke="#21918c" stroke-width="1.5"/>
<path d="M25.4 941.5L130.8 941.1M110.9 933.4L130.8 941.1L111.0 948.9" stroke="#21918c" stroke-width="1.5"/>
<path d="M25.4 927.4L135.7 927.0M114.9 918.9L135.7 927.0L115.0 935.2" stroke="#20a486" stroke-width="1.5"/>
<path d="M25.4 904.5L141.0 904.1M119.2 895.6L141.0 904.1L119.3 912.7" stroke="#20a486" stroke-width="1.5"/>
<path d="M25.4 869.0L146.9 868.6M124.0 859.7L146.9 868.6L124.1 877.7" stroke="#20a486" stroke-width="1.5"/>
<path d="M25.4 812.8L154.0 812.4M129.8 803.0L154.0 812.4L129.9 822.0" stroke="#35b779" stroke-width="1.5"/>
<path d="M25.4 728.9L162.1 728.6M136.4 718.6L162.1 728.6L136.5 738.8" stroke="#35b779" stroke-width="1.5"/>
<path d="M170.5 973.9L201.3 975.0M195.5 972.5L201.3 975.0L195.3 977.1" stroke="#443983" stroke-width="1.5"/>
<path d="M170.5 970.4L217.7 972.3M208.9 968.5L217.7 972.3L208.6 975.5" stroke="#3b528b" stroke-width="1.5"/>
<path d="M170.5 966.2L243.6 969.5M230.0 963.5L243.6 969.5L229.6 974.3" stroke="#31688e" stroke-width="1.5"/>
<path d="M170.5 961.6L256.8 965.4M240.8 958.3L256.8 965.4L240.3 971.1" stroke="#287c8e" stroke-width="1.5"/>
<path d="M170.5 955.7L266.9 959.8M249.1 951.9L266.9 959.8L248.5 966.2" stroke="#21918c" stroke-width="1.5"/>
<path d="M170.5 946.4L274.4 950.6M255.2 942.1L274.4 950.6L254.6 957.5" stroke="#21918c" stroke-width="1.5"/>
<path d="M170.5 932.3L280.0 936.4M259.7 927.5L280.0 936.4L259.1 943.7" stroke="#21918c" stroke-width="1.5"/>
<path d="M170.5 909.3L285.9 913.4M264.5 904.1L285.9 913.4L263.9 921.1" stroke="#20a486" stroke-width="1.5"/>
<path d="M170.5 873.8L292.3 877.7M269.7 868.0L292.3 877.7L269.1 886.0" stroke="#20a486" stroke-width="1.5"/>
<path d="M170.5 817.4L299.1 820.9M275.2 810.8L299.1 820.9L274.7 829.7" stroke="#35b779" stroke-width="1.5"/>
<path d="M170.5 733.5L307.5 736.5M282.0 725.9L307.5 736.5L281.6 746.1" stroke="#35b779" stroke-width="1.5"/>
<path d="M315.6 985.8L338.1 987.2M333.8 985.2L338.1 987.2L333.6 988.7" stroke="#481f70" stroke-width="1.5"/>
<path d="M315.6 982.3L353.7 985.1M346.6 981.7L353.7 985.1L346.2 987.4" stroke="#443983" stroke-width="1.5"/>
<path d="M315.6 978.1L378.4 983.2M366.9 977.5L378.4 983.2L366.2 986.9" stroke="#31688e" stroke-width="1.5"/>
<path d="M315.6 973.5L392.4 979.6M378.4 972.7L392.4 979.6L377.5 984.1" stroke="#31688e" stroke-width="1.5"/>
<path d="M315.6 967.6L404.2 974.3M388.0 966.5L404.2 974.3L387.0 979.6" stroke="#287c8e" stroke-width="1.5"/>
<path d="M315.6 958.2L413.5 965.1M395.6 956.6L413.5 965.1L394.6 971.1" stroke="#21918c" stroke-width="1.5"/>
<path d="M315.6 944.0L420.7 950.9M401.5 941.9L420.7 950.9L400.5 957.4" stroke="#21918c" stroke-width="1.5"/>
<path d="M315.6 921.0L427.1 927.8M406.7 918.3L427.1 927.8L405.7 934.7" stroke="#20a486" stroke-width="1.5"/>
<path d="M315.6 885.3L433.9 891.9M412.2 881.9L433.9 891.9L411.2 899.4" stroke="#20a486" stroke-width="1.5"/>
<path d="M315.6 828.7L441.4 834.5M418.2 824.1L441.4 834.5L417.4 842.7" stroke="#35b779" stroke-width="1.5"/>
<path d="M315.6 744.4L450.7 749.5M425.8 738.6L450.7 749.5L425.0 758.5" stroke="#35b779" stroke-width="1.5"/>
<path d="M460.7 1002.1L477.6 1003.5M474.4 1001.9L477.6 1003.5L474.2 1004.5" stroke="#481f70" stroke-width="1.5"/>
<path d="M460.7 998.7L491.6 1001.5M485.9 998.7L491.6 1001.5L485.5 1003.3" stroke="#443983" stroke-width="1.5"/>
<path d="M460.7 994.5L512.6 999.9M503.2 995.0L512.6 999.9L502.4 1002.7" stroke="#3b528b" stroke-width="1.5"/>
<path d="M460.7 989.9L525.8 996.5M514.0 990.4L525.8 996.5L513.0 1000.1" stroke="#31688e" stroke-width="1.5"/>
<path d="M460.7 983.9L538.2 991.5M524.2 984.3L538.2 991.5L523.1 995.8" stroke="#31688e" stroke-width="1.5"/>
<path d="M460.7 974.4L549.5 982.5M533.4 974.4L549.5 982.5L532.2 987.6" stroke="#287c8e" stroke-width="1.5"/>
<path d="M460.7 960.1L559.2 968.5M541.3 959.6L559.2 968.5L540.1 974.2" stroke="#21918c" stroke-width="1.5"/>
<path d="M460.7 937.0L566.8 945.3M547.5 935.9L566.8 945.3L546.3 951.5" stroke="#21918c" stroke-width="1.5"/>
<path d="M460.7 901.1L574.1 909.2M553.4 899.3L574.1 909.2L552.2 916.0" stroke="#20a486" stroke-width="1.5"/>
<path d="M460.7 844.2L582.5 851.2M560.2 840.9L582.5 851.2L559.2 858.9" stroke="#20a486" stroke-width="1.5"/>
<path d="M460.7 759.5L592.5 765.5M568.3 754.7L592.5 765.5L567.4 774.1" stroke="#35b779" stroke-width="1.5"/>
<path d="M605.9 1019.9L621.5 1021.2M618.5 1019.8L621.5 1021.2L618.3 1022.2" stroke="#481f70" stroke-width="1.5"/>
<path d="M605.9 1016.4L634.3 1019.2M629.0 1016.5L634.3 1019.2L628.6 1020.8" stroke="#481f70" stroke-width="1.5"/>
<path d="M605.9 1012.2L653.3 1017.3M644.7 1012.8L653.3 1017.3L643.9 1019.9" stroke="#3b528b" stroke-width="1.5"/>
<path d="M605.9 1007.6L665.0 1013.8M654.3 1008.2L665.0 1013.8L653.4 1017.0" stroke="#3b528b" stroke-width="1.5"/>
<path d="M605.9 1001.6L676.3 1008.7M663.6 1002.1L676.3 1008.7L662.5 1012.6" stroke="#31688e" stroke-width="1.5"/>
<path d="M605.9 992.1L687.8 999.9M672.9 992.3L687.8 999.9L671.8 1004.5" stroke="#287c8e" stroke-width="1.5"/>
<path d="M605.9 977.6L698.4 986.0M681.6 977.5L698.4 986.0L680.4 991.2" stroke="#287c8e" stroke-width="1.5"/>
<path d="M605.9 954.4L707.5 962.9M689.0 953.8L707.5 962.9L687.8 968.8" stroke="#21918c" stroke-width="1.5"/>
<path d="M605.9 918.3L715.4 926.9M695.5 917.2L715.4 926.9L694.2 933.4" stroke="#21918c" stroke-width="1.5"/>
<path d="M605.9 861.1L724.2 869.0M702.6 858.8L724.2 869.0L701.4 876.3" stroke="#20a486" stroke-width="1.5"/>
<path d="M605.9 775.8L734.3 783.2M710.7 772.4L734.3 783.2L709.7 791.3" stroke="#35b779" stroke-width="1.5"/>
<path d="M751.0 1037.2L765.4 1038.4M762.7 1037.1L765.4 1038.4L762.5 1039.3" stroke="#440154" stroke-width="1.5"/>
<path d="M751.0 1033.7L776.9 1036.2M772.1 1033.8L776.9 1036.2L771.7 1037.7" stroke="#481f70" stroke-width="1.5"/>
<path d="M751.0 1029.5L794.0 1034.1M786.2 1030.0L794.0 1034.1L785.5 1036.5" stroke="#443983" stroke-width="1.5"/>
<path d="M751.0 1024.9L804.2 1030.5M794.6 1025.4L804.2 1030.5L793.7 1033.4" stroke="#3b528b" stroke-width="1.5"/>
<path d="M751.0 1018.8L814.4 1025.3M802.9 1019.3L814.4 1025.3L802.0 1028.8" stroke="#31688e" stroke-width="1.5"/>
<path d="M751.0 1009.2L826.0 1016.4M812.4 1009.5L826.0 1016.4L811.4 1020.6" stroke="#31688e" stroke-width="1.5"/>
<path d="M751.0 994.7L837.6 1002.5M821.9 994.6L837.6 1002.5L820.8 1007.5" stroke="#287c8e" stroke-width="1.5"/>
<path d="M751.0 971.3L848.1 979.5M830.5 970.8L848.1 979.5L829.3 985.2" stroke="#21918c" stroke-width="1.5"/>
<path d="M751.0 935.0L856.6 943.3M837.4 934.0L856.6 943.3L836.2 949.6" stroke="#21918c" stroke-width="1.5"/>
<path d="M751.0 877.5L865.8 885.2M844.9 875.3L865.8 885.2L843.7 892.3" stroke="#20a486" stroke-width="1.5"/>
<path d="M751.0 791.7L876.0 799.0M853.1 788.4L876.0 799.0L852.1 806.9" stroke="#20a486" stroke-width="1.5"/>
<rect x="25.4" y="711.9" width="853.7" height="343.3" stroke="#111" stroke-width="1.5"/>
</g>
<g fill="none">
<polyline points="906.2,978.6 919.3,980.1 1063.5,997.1 1207.7,1010.8 1351.9,1019.7 1496.1,1019.7 1640.3,1010.1 1769.6,998.4" stroke="#4a4a4a" stroke-width="1.3"/>
<path d="M919.3 979.8L930.4 980.8M928.2 979.7L930.4 980.8L928.1 981.5" stroke="#440154" stroke-width="1.5"/>
<path d="M919.3 976.4L940.1 978.4M936.2 976.4L940.1 978.4L935.9 979.6" stroke="#481f70" stroke-width="1.5"/>
<path d="M919.3 972.2L954.7 975.9M948.2 972.6L954.7 975.9L947.7 977.9" stroke="#443983" stroke-width="1.5"/>
<path d="M919.3 967.5L963.6 972.2M955.5 968.0L963.6 972.2L954.8 974.6" stroke="#443983" stroke-width="1.5"/>
<path d="M919.3 961.4L972.0 966.7M962.4 961.8L972.0 966.7L961.6 969.6" stroke="#3b528b" stroke-width="1.5"/>
<path d="M919.3 951.7L981.4 957.6M970.1 951.9L981.4 957.6L969.2 961.1" stroke="#31688e" stroke-width="1.5"/>
<path d="M919.3 937.0L992.9 943.6M979.5 936.9L992.9 943.6L978.5 947.8" stroke="#31688e" stroke-width="1.5"/>
<path d="M919.3 913.4L1005.0 920.5M989.4 912.8L1005.0 920.5L988.4 925.5" stroke="#287c8e" stroke-width="1.5"/>
<path d="M919.3 876.8L1016.1 884.3M998.5 875.7L1016.1 884.3L997.4 890.0" stroke="#21918c" stroke-width="1.5"/>
<path d="M919.3 818.7L1025.7 825.8M1006.3 816.6L1025.7 825.8L1005.2 832.3" stroke="#21918c" stroke-width="1.5"/>
<path d="M919.3 732.3L1037.2 738.9M1015.6 729.0L1037.2 738.9L1014.6 746.4" stroke="#20a486" stroke-width="1.5"/>
<path d="M1063.5 996.8L1072.8 997.5M1071.0 996.7L1072.8 997.5L1070.8 998.1" stroke="#440154" stroke-width="1.5"/>
<path d="M1063.5 993.4L1081.7 995.0M1078.3 993.2L1081.7 995.0L1078.0 996.0" stroke="#481f70" stroke-width="1.5"/>
<path d="M1063.5 989.2L1095.1 992.2M1089.3 989.2L1095.1 992.2L1088.8 994.0" stroke="#443983" stroke-width="1.5"/>
<path d="M1063.5 984.5L1102.9 988.2M1095.7 984.5L1102.9 988.2L1095.1 990.5" stroke="#443983" stroke-width="1.5"/>
<path d="M1063.5 978.3L1110.8 982.6M1102.2 978.3L1110.8 982.6L1101.5 985.4" stroke="#3b528b" stroke-width="1.5"/>
<path d="M1063.5 968.6L1119.3 973.3M1109.1 968.3L1119.3 973.3L1108.4 976.6" stroke="#3b528b" stroke-width="1.5"/>
<path d="M1063.5 953.7L1130.3 959.1M1118.1 953.1L1130.3 959.1L1117.3 963.1" stroke="#31688e" stroke-width="1.5"/>
<path d="M1063.5 930.0L1143.0 936.0M1128.5 929.0L1143.0 936.0L1127.6 940.8" stroke="#287c8e" stroke-width="1.5"/>
<path d="M1063.5 893.2L1155.4 899.6M1138.6 891.6L1155.4 899.6L1137.7 905.2" stroke="#287c8e" stroke-width="1.5"/>
<path d="M1063.5 834.9L1166.2 841.0M1147.4 832.3L1166.2 841.0L1146.5 847.5" stroke="#21918c" stroke-width="1.5"/>
<path d="M1063.5 748.0L1178.1 753.8M1157.0 744.2L1178.1 753.8L1156.2 761.2" stroke="#20a486" stroke-width="1.5"/>
<path d="M1207.7 1010.6L1216.2 1011.1M1214.5 1010.3L1216.2 1011.1L1214.4 1011.7" stroke="#440154" stroke-width="1.5"/>
<path d="M1207.7 1007.1L1224.7 1008.3M1221.5 1006.7L1224.7 1008.3L1221.3 1009.4" stroke="#481f70" stroke-width="1.5"/>
<path d="M1207.7 1002.9L1237.3 1005.2M1231.8 1002.5L1237.3 1005.2L1231.4 1007.0" stroke="#481f70" stroke-width="1.5"/>
<path d="M1207.7 998.2L1245.0 1001.0M1238.1 997.7L1245.0 1001.0L1237.7 1003.3" stroke="#443983" stroke-width="1.5"/>
<path d="M1207.7 992.1L1251.8 995.2M1243.7 991.3L1251.8 995.2L1243.2 997.9" stroke="#443983" stroke-width="1.5"/>
<path d="M1207.7 982.2L1259.8 985.7M1250.2 981.2L1259.8 985.7L1249.7 988.9" stroke="#3b528b" stroke-width="1.5"/>
<path d="M1207.7 967.3L1269.9 971.2M1258.4 965.8L1269.9 971.2L1257.9 975.0" stroke="#31688e" stroke-width="1.5"/>
<path d="M1207.7 943.5L1282.9 947.7M1269.0 941.4L1282.9 947.7L1268.4 952.5" stroke="#31688e" stroke-width="1.5"/>
<path d="M1207.7 906.5L1295.8 911.1M1279.6 903.7L1295.8 911.1L1278.9 916.7" stroke="#287c8e" stroke-width="1.5"/>
<path d="M1207.7 847.9L1307.1 852.1M1288.7 843.9L1307.1 852.1L1288.1 858.6" stroke="#21918c" stroke-width="1.5"/>
<path d="M1207.7 760.6L1319.8 764.4M1299.0 755.4L1319.8 764.4L1298.5 771.9" stroke="#20a486" stroke-width="1.5"/>
<path d="M1351.9 1019.4L1361.7 1019.6M1359.7 1018.8L1361.7 1019.6L1359.7 1020.3" stroke="#440154" stroke-width="1.5"/>
<path d="M1351.9 1016.0L1370.2 1016.3M1366.6 1014.9L1370.2 1016.3L1366.6 1017.7" stroke="#481f70" stroke-width="1.5"/>
<path d="M1351.9 1011.8L1382.3 1012.4M1376.5 1010.0L1382.3 1012.4L1376.4 1014.6" stroke="#481f70" stroke-width="1.5"/>
<path d="M1351.9 1007.1L1389.1 1007.9M1382.1 1004.9L1389.1 1007.9L1381.9 1010.5" stroke="#443983" stroke-width="1.5"/>
<path d="M1351.9 1000.9L1395.6 1001.8M1387.4 998.3L1395.6 1001.8L1387.2 1004.9" stroke="#443983" stroke-width="1.5"/>
<path d="M1351.9 991.0L1402.7 992.0M1393.1 988.0L1402.7 992.0L1393.0 995.6" stroke="#3b528b" stroke-width="1.5"/>
<path d="M1351.9 976.0L1412.0 977.1M1400.7 972.4L1412.0 977.1L1400.6 981.4" stroke="#3b528b" stroke-width="1.5"/>
<path d="M1351.9 952.1L1424.2 953.4M1410.7 947.8L1424.2 953.4L1410.5 958.5" stroke="#31688e" stroke-width="1.5"/>
<path d="M1351.9 915.1L1437.0 916.4M1421.1 909.9L1437.0 916.4L1420.9 922.5" stroke="#287c8e" stroke-width="1.5"/>
<path d="M1351.9 856.3L1449.6 857.7M1431.3 850.2L1449.6 857.7L1431.1 864.7" stroke="#21918c" stroke-width="1.5"/>
<path d="M1351.9 768.8L1462.3 770.1M1441.7 761.7L1462.3 770.1L1441.5 778.0" stroke="#20a486" stroke-width="1.5"/>
<path d="M1496.1 1019.4L1509.9 1019.3M1507.1 1018.2L1509.9 1019.3L1507.2 1020.4" stroke="#440154" stroke-width="1.5"/>
<path d="M1496.1 1016.0L1517.9 1015.7M1513.6 1014.1L1517.9 1015.7L1513.7 1017.4" stroke="#481f70" stroke-width="1.5"/>
<path d="M1496.1 1011.8L1530.3 1011.3M1523.7 1008.8L1530.3 1011.3L1523.8 1014.0" stroke="#443983" stroke-width="1.5"/>
<path d="M1496.1 1007.1L1537.0 1006.5M1529.2 1003.6L1537.0 1006.5L1529.2 1009.7" stroke="#443983" stroke-width="1.5"/>
<path d="M1496.1 1000.9L1542.6 1000.3M1533.7 996.9L1542.6 1000.3L1533.8 1003.8" stroke="#3b528b" stroke-width="1.5"/>
<path d="M1496.1 991.0L1548.9 990.3M1538.8 986.5L1548.9 990.3L1538.9 994.4" stroke="#3b528b" stroke-width="1.5"/>
<path d="M1496.1 976.0L1557.3 975.3M1545.7 970.9L1557.3 975.3L1545.8 980.0" stroke="#3b528b" stroke-width="1.5"/>
<path d="M1496.1 952.1L1568.3 951.3M1554.6 946.1L1568.3 951.3L1554.7 956.8" stroke="#31688e" stroke-width="1.5"/>
<path d="M1496.1 915.1L1581.4 914.2M1565.3 908.0L1581.4 914.2L1565.4 920.7" stroke="#287c8e" stroke-width="1.5"/>
<path d="M1496.1 857.1L1593.7 856.2M1575.3 849.2L1593.7 856.2L1575.4 863.6" stroke="#21918c" stroke-width="1.5"/>
<path d="M1496.1 768.8L1606.4 767.9M1585.6 759.9L1606.4 767.9L1585.8 776.2" stroke="#20a486" stroke-width="1.5"/>
<path d="M1640.3 1009.9L1658.6 1009.0M1654.9 1007.7L1658.6 1009.0L1655.1 1010.5" stroke="#481f70" stroke-width="1.5"/>
<path d="M1640.3 1006.4L1667.9 1004.8M1662.5 1003.0L1667.9 1004.8L1662.7 1007.2" stroke="#481f70" stroke-width="1.5"/>
<path d="M1640.3 1002.2L1681.8 999.5M1673.7 996.9L1681.8 999.5L1674.1 1003.2" stroke="#443983" stroke-width="1.5"/>
<path d="M1640.3 997.5L1687.8 994.5M1678.5 991.5L1687.8 994.5L1679.0 998.6" stroke="#3b528b" stroke-width="1.5"/>
<path d="M1640.3 991.7L1692.9 988.5M1682.7 985.2L1692.9 988.5L1683.2 993.0" stroke="#3b528b" stroke-width="1.5"/>
<path d="M1640.3 982.0L1697.9 978.7M1686.7 975.0L1697.9 978.7L1687.2 983.6" stroke="#3b528b" stroke-width="1.5"/>
<path d="M1640.3 967.4L1705.5 964.0M1692.9 959.8L1705.5 964.0L1693.4 969.5" stroke="#31688e" stroke-width="1.5"/>
<path d="M1640.3 943.9L1715.7 940.3M1701.2 935.4L1715.7 940.3L1701.8 946.5" stroke="#31688e" stroke-width="1.5"/>
<path d="M1640.3 906.4L1727.5 902.5M1710.8 896.8L1727.5 902.5L1711.4 909.7" stroke="#287c8e" stroke-width="1.5"/>
<path d="M1640.3 848.9L1739.7 845.3M1720.8 838.6L1739.7 845.3L1721.3 853.3" stroke="#21918c" stroke-width="1.5"/>
<path d="M1640.3 760.8L1752.0 757.6M1730.8 750.0L1752.0 757.6L1731.3 766.5" stroke="#20a486" stroke-width="1.5"/>
<rect x="910.2" y="714.2" width="857.2" height="339.5" stroke="#111" stroke-width="1.5"/>
</g>
</svg>
</body></html>
